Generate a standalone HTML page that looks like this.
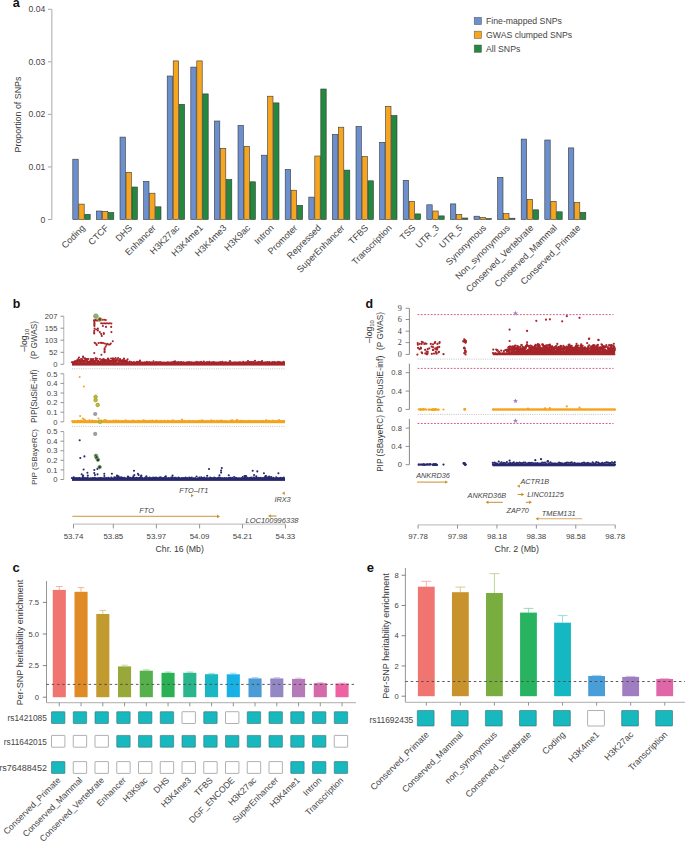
<!DOCTYPE html>
<html><head><meta charset="utf-8"><title>Figure</title>
<style>
html,body{margin:0;padding:0;background:#fff;}
body{width:685px;height:843px;overflow:hidden;}
svg{display:block;font-family:"Liberation Sans", sans-serif;}
</style></head><body>
<svg width="685" height="843" viewBox="0 0 685 843">
<rect width="685" height="843" fill="#fff"/>
<text x="12.8" y="6.8" font-size="12.6" text-anchor="start" fill="#111" font-weight="bold">a</text>
<line x1="51.8" y1="9.3" x2="51.8" y2="219.8" stroke="#c2c2c2" stroke-width="1.4"/>
<line x1="47.9" y1="9.3" x2="51.5" y2="9.3" stroke="#9a9a9a" stroke-width="0.9"/>
<text x="45.3" y="12.3" font-size="8.6" text-anchor="end" fill="#444">0.04</text>
<line x1="47.9" y1="61.85" x2="51.5" y2="61.85" stroke="#9a9a9a" stroke-width="0.9"/>
<text x="45.3" y="64.85" font-size="8.6" text-anchor="end" fill="#444">0.03</text>
<line x1="47.9" y1="114.4" x2="51.5" y2="114.4" stroke="#9a9a9a" stroke-width="0.9"/>
<text x="45.3" y="117.4" font-size="8.6" text-anchor="end" fill="#444">0.02</text>
<line x1="47.9" y1="166.95" x2="51.5" y2="166.95" stroke="#9a9a9a" stroke-width="0.9"/>
<text x="45.3" y="169.95" font-size="8.6" text-anchor="end" fill="#444">0.01</text>
<line x1="47.9" y1="219.5" x2="51.5" y2="219.5" stroke="#9a9a9a" stroke-width="0.9"/>
<text x="45.3" y="222.5" font-size="8.6" text-anchor="end" fill="#444">0</text>
<text x="0" y="0" font-size="8.9" text-anchor="middle" fill="#3a3a3a" transform="translate(20.8 114.5) rotate(-90)">Proportion of SNPs</text>
<rect x="72.8" y="159.2" width="5.4" height="60.3" fill="#6c8fcd" stroke="#383838" stroke-width="0.6"/>
<rect x="78.8" y="204.1" width="5.4" height="15.4" fill="#f6a521" stroke="#383838" stroke-width="0.6"/>
<rect x="84.8" y="214.3" width="5.4" height="5.2" fill="#22893f" stroke="#383838" stroke-width="0.6"/>
<text x="0" y="0" font-size="9.1" text-anchor="end" fill="#444" transform="translate(85.6 228.5) rotate(-45)">Coding</text>
<rect x="96.4" y="211" width="5.4" height="8.5" fill="#6c8fcd" stroke="#383838" stroke-width="0.6"/>
<rect x="102.4" y="211.3" width="5.4" height="8.2" fill="#f6a521" stroke="#383838" stroke-width="0.6"/>
<rect x="108.4" y="212.5" width="5.4" height="7" fill="#22893f" stroke="#383838" stroke-width="0.6"/>
<text x="0" y="0" font-size="9.1" text-anchor="end" fill="#444" transform="translate(109.2 228.5) rotate(-45)">CTCF</text>
<rect x="120" y="137.1" width="5.4" height="82.4" fill="#6c8fcd" stroke="#383838" stroke-width="0.6"/>
<rect x="126" y="172.3" width="5.4" height="47.2" fill="#f6a521" stroke="#383838" stroke-width="0.6"/>
<rect x="132" y="187" width="5.4" height="32.5" fill="#22893f" stroke="#383838" stroke-width="0.6"/>
<text x="0" y="0" font-size="9.1" text-anchor="end" fill="#444" transform="translate(132.8 228.5) rotate(-45)">DHS</text>
<rect x="143.6" y="181.3" width="5.4" height="38.2" fill="#6c8fcd" stroke="#383838" stroke-width="0.6"/>
<rect x="149.6" y="193.2" width="5.4" height="26.3" fill="#f6a521" stroke="#383838" stroke-width="0.6"/>
<rect x="155.6" y="206.8" width="5.4" height="12.7" fill="#22893f" stroke="#383838" stroke-width="0.6"/>
<text x="0" y="0" font-size="9.1" text-anchor="end" fill="#444" transform="translate(156.4 228.5) rotate(-45)">Enhancer</text>
<rect x="167.2" y="76" width="5.4" height="143.5" fill="#6c8fcd" stroke="#383838" stroke-width="0.6"/>
<rect x="173.2" y="60.9" width="5.4" height="158.6" fill="#f6a521" stroke="#383838" stroke-width="0.6"/>
<rect x="179.2" y="104.3" width="5.4" height="115.2" fill="#22893f" stroke="#383838" stroke-width="0.6"/>
<text x="0" y="0" font-size="9.1" text-anchor="end" fill="#444" transform="translate(180 228.5) rotate(-45)">H3K27ac</text>
<rect x="190.8" y="67.1" width="5.4" height="152.4" fill="#6c8fcd" stroke="#383838" stroke-width="0.6"/>
<rect x="196.8" y="60.9" width="5.4" height="158.6" fill="#f6a521" stroke="#383838" stroke-width="0.6"/>
<rect x="202.8" y="93.9" width="5.4" height="125.6" fill="#22893f" stroke="#383838" stroke-width="0.6"/>
<text x="0" y="0" font-size="9.1" text-anchor="end" fill="#444" transform="translate(203.6 228.5) rotate(-45)">H3K4me1</text>
<rect x="214.4" y="121" width="5.4" height="98.5" fill="#6c8fcd" stroke="#383838" stroke-width="0.6"/>
<rect x="220.4" y="148.3" width="5.4" height="71.2" fill="#f6a521" stroke="#383838" stroke-width="0.6"/>
<rect x="226.4" y="179.5" width="5.4" height="40" fill="#22893f" stroke="#383838" stroke-width="0.6"/>
<text x="0" y="0" font-size="9.1" text-anchor="end" fill="#444" transform="translate(227.2 228.5) rotate(-45)">H3K4me3</text>
<rect x="238" y="125.4" width="5.4" height="94.1" fill="#6c8fcd" stroke="#383838" stroke-width="0.6"/>
<rect x="244" y="146.3" width="5.4" height="73.2" fill="#f6a521" stroke="#383838" stroke-width="0.6"/>
<rect x="250" y="181.8" width="5.4" height="37.7" fill="#22893f" stroke="#383838" stroke-width="0.6"/>
<text x="0" y="0" font-size="9.1" text-anchor="end" fill="#444" transform="translate(250.8 228.5) rotate(-45)">H3K9ac</text>
<rect x="261.6" y="155.2" width="5.4" height="64.3" fill="#6c8fcd" stroke="#383838" stroke-width="0.6"/>
<rect x="267.6" y="96.2" width="5.4" height="123.3" fill="#f6a521" stroke="#383838" stroke-width="0.6"/>
<rect x="273.6" y="102.9" width="5.4" height="116.6" fill="#22893f" stroke="#383838" stroke-width="0.6"/>
<text x="0" y="0" font-size="9.1" text-anchor="end" fill="#444" transform="translate(274.4 228.5) rotate(-45)">Intron</text>
<rect x="285.2" y="169.4" width="5.4" height="50.1" fill="#6c8fcd" stroke="#383838" stroke-width="0.6"/>
<rect x="291.2" y="190.2" width="5.4" height="29.3" fill="#f6a521" stroke="#383838" stroke-width="0.6"/>
<rect x="297.2" y="205.3" width="5.4" height="14.2" fill="#22893f" stroke="#383838" stroke-width="0.6"/>
<text x="0" y="0" font-size="9.1" text-anchor="end" fill="#444" transform="translate(298 228.5) rotate(-45)">Promoter</text>
<rect x="308.8" y="197.1" width="5.4" height="22.4" fill="#6c8fcd" stroke="#383838" stroke-width="0.6"/>
<rect x="314.8" y="156" width="5.4" height="63.5" fill="#f6a521" stroke="#383838" stroke-width="0.6"/>
<rect x="320.8" y="89" width="5.4" height="130.5" fill="#22893f" stroke="#383838" stroke-width="0.6"/>
<text x="0" y="0" font-size="9.1" text-anchor="end" fill="#444" transform="translate(321.6 228.5) rotate(-45)">Repressed</text>
<rect x="332.4" y="134.4" width="5.4" height="85.1" fill="#6c8fcd" stroke="#383838" stroke-width="0.6"/>
<rect x="338.4" y="127.2" width="5.4" height="92.3" fill="#f6a521" stroke="#383838" stroke-width="0.6"/>
<rect x="344.4" y="170.1" width="5.4" height="49.4" fill="#22893f" stroke="#383838" stroke-width="0.6"/>
<text x="0" y="0" font-size="9.1" text-anchor="end" fill="#444" transform="translate(345.2 228.5) rotate(-45)">SuperEnhancer</text>
<rect x="356" y="126.4" width="5.4" height="93.1" fill="#6c8fcd" stroke="#383838" stroke-width="0.6"/>
<rect x="362" y="156.5" width="5.4" height="63" fill="#f6a521" stroke="#383838" stroke-width="0.6"/>
<rect x="368" y="180.8" width="5.4" height="38.7" fill="#22893f" stroke="#383838" stroke-width="0.6"/>
<text x="0" y="0" font-size="9.1" text-anchor="end" fill="#444" transform="translate(368.8 228.5) rotate(-45)">TFBS</text>
<rect x="379.6" y="142.3" width="5.4" height="77.2" fill="#6c8fcd" stroke="#383838" stroke-width="0.6"/>
<rect x="385.6" y="106.3" width="5.4" height="113.2" fill="#f6a521" stroke="#383838" stroke-width="0.6"/>
<rect x="391.6" y="115.5" width="5.4" height="104" fill="#22893f" stroke="#383838" stroke-width="0.6"/>
<text x="0" y="0" font-size="9.1" text-anchor="end" fill="#444" transform="translate(392.4 228.5) rotate(-45)">Transcription</text>
<rect x="403.2" y="180.3" width="5.4" height="39.2" fill="#6c8fcd" stroke="#383838" stroke-width="0.6"/>
<rect x="409.2" y="201.3" width="5.4" height="18.2" fill="#f6a521" stroke="#383838" stroke-width="0.6"/>
<rect x="415.2" y="213.9" width="5.4" height="5.6" fill="#22893f" stroke="#383838" stroke-width="0.6"/>
<text x="0" y="0" font-size="9.1" text-anchor="end" fill="#444" transform="translate(416 228.5) rotate(-45)">TSS</text>
<rect x="426.8" y="204.8" width="5.4" height="14.7" fill="#6c8fcd" stroke="#383838" stroke-width="0.6"/>
<rect x="432.8" y="211" width="5.4" height="8.5" fill="#f6a521" stroke="#383838" stroke-width="0.6"/>
<rect x="438.8" y="215.9" width="5.4" height="3.6" fill="#22893f" stroke="#383838" stroke-width="0.6"/>
<text x="0" y="0" font-size="9.1" text-anchor="end" fill="#444" transform="translate(439.6 228.5) rotate(-45)">UTR_3</text>
<rect x="450.4" y="203.9" width="5.4" height="15.6" fill="#6c8fcd" stroke="#383838" stroke-width="0.6"/>
<rect x="456.4" y="214.5" width="5.4" height="5" fill="#f6a521" stroke="#383838" stroke-width="0.6"/>
<rect x="462.4" y="218" width="5.4" height="1.5" fill="#22893f" stroke="#383838" stroke-width="0.6"/>
<text x="0" y="0" font-size="9.1" text-anchor="end" fill="#444" transform="translate(463.2 228.5) rotate(-45)">UTR_5</text>
<rect x="474" y="216.2" width="5.4" height="3.3" fill="#6c8fcd" stroke="#383838" stroke-width="0.6"/>
<rect x="480" y="217.4" width="5.4" height="2.1" fill="#f6a521" stroke="#383838" stroke-width="0.6"/>
<rect x="486" y="218.5" width="5.4" height="1" fill="#22893f" stroke="#383838" stroke-width="0.6"/>
<text x="0" y="0" font-size="9.1" text-anchor="end" fill="#444" transform="translate(486.8 228.5) rotate(-45)">Synonymous</text>
<rect x="497.6" y="177.4" width="5.4" height="42.1" fill="#6c8fcd" stroke="#383838" stroke-width="0.6"/>
<rect x="503.6" y="213.6" width="5.4" height="5.9" fill="#f6a521" stroke="#383838" stroke-width="0.6"/>
<rect x="509.6" y="218.2" width="5.4" height="1.3" fill="#22893f" stroke="#383838" stroke-width="0.6"/>
<text x="0" y="0" font-size="9.1" text-anchor="end" fill="#444" transform="translate(510.4 228.5) rotate(-45)">Non_synonymous</text>
<rect x="521.2" y="139.1" width="5.4" height="80.4" fill="#6c8fcd" stroke="#383838" stroke-width="0.6"/>
<rect x="527.2" y="199.3" width="5.4" height="20.2" fill="#f6a521" stroke="#383838" stroke-width="0.6"/>
<rect x="533.2" y="209.8" width="5.4" height="9.7" fill="#22893f" stroke="#383838" stroke-width="0.6"/>
<text x="0" y="0" font-size="9.1" text-anchor="end" fill="#444" transform="translate(534 228.5) rotate(-45)">Conserved_Vertebrate</text>
<rect x="544.8" y="140" width="5.4" height="79.5" fill="#6c8fcd" stroke="#383838" stroke-width="0.6"/>
<rect x="550.8" y="201.3" width="5.4" height="18.2" fill="#f6a521" stroke="#383838" stroke-width="0.6"/>
<rect x="556.8" y="211.8" width="5.4" height="7.7" fill="#22893f" stroke="#383838" stroke-width="0.6"/>
<text x="0" y="0" font-size="9.1" text-anchor="end" fill="#444" transform="translate(557.6 228.5) rotate(-45)">Conserved_Mammal</text>
<rect x="568.4" y="147.9" width="5.4" height="71.6" fill="#6c8fcd" stroke="#383838" stroke-width="0.6"/>
<rect x="574.4" y="202.5" width="5.4" height="17" fill="#f6a521" stroke="#383838" stroke-width="0.6"/>
<rect x="580.4" y="212.4" width="5.4" height="7.1" fill="#22893f" stroke="#383838" stroke-width="0.6"/>
<text x="0" y="0" font-size="9.1" text-anchor="end" fill="#444" transform="translate(581.2 228.5) rotate(-45)">Conserved_Primate</text>
<rect x="474.2" y="17.3" width="7.3" height="7.3" fill="#6c8fcd" stroke="#555" stroke-width="0.5"/>
<text x="486" y="23.8" font-size="8.7" text-anchor="start" fill="#444">Fine-mapped SNPs</text>
<rect x="474.2" y="31.15" width="7.3" height="7.3" fill="#f6a521" stroke="#555" stroke-width="0.5"/>
<text x="486" y="37.65" font-size="8.7" text-anchor="start" fill="#444">GWAS clumped SNPs</text>
<rect x="474.2" y="45" width="7.3" height="7.3" fill="#22893f" stroke="#555" stroke-width="0.5"/>
<text x="486" y="51.5" font-size="8.7" text-anchor="start" fill="#444">All SNPs</text>
<text x="12.8" y="307.7" font-size="12.4" text-anchor="start" fill="#111" font-weight="bold">b</text>
<line x1="63.7" y1="316.2" x2="63.7" y2="364.3" stroke="#c4c4c4" stroke-width="1.3"/>
<line x1="60.5" y1="316.2" x2="63.7" y2="316.2" stroke="#777" stroke-width="0.8"/>
<text x="57.4" y="318.9" font-size="7.6" text-anchor="end" fill="#444">207</text>
<line x1="60.5" y1="328.2" x2="63.7" y2="328.2" stroke="#777" stroke-width="0.8"/>
<text x="57.4" y="330.9" font-size="7.6" text-anchor="end" fill="#444">155</text>
<line x1="60.5" y1="340.2" x2="63.7" y2="340.2" stroke="#777" stroke-width="0.8"/>
<text x="57.4" y="342.9" font-size="7.6" text-anchor="end" fill="#444">103</text>
<line x1="60.5" y1="352.3" x2="63.7" y2="352.3" stroke="#777" stroke-width="0.8"/>
<text x="57.4" y="355" font-size="7.6" text-anchor="end" fill="#444">52</text>
<line x1="60.5" y1="364.3" x2="63.7" y2="364.3" stroke="#777" stroke-width="0.8"/>
<text x="57.4" y="367" font-size="7.6" text-anchor="end" fill="#444">0</text>
<line x1="63.7" y1="373.8" x2="63.7" y2="421.8" stroke="#c4c4c4" stroke-width="1.3"/>
<line x1="60.5" y1="373.8" x2="63.7" y2="373.8" stroke="#777" stroke-width="0.8"/>
<text x="57.4" y="376.5" font-size="7.6" text-anchor="end" fill="#444">0.5</text>
<line x1="60.5" y1="383.4" x2="63.7" y2="383.4" stroke="#777" stroke-width="0.8"/>
<text x="57.4" y="386.1" font-size="7.6" text-anchor="end" fill="#444">0.4</text>
<line x1="60.5" y1="393" x2="63.7" y2="393" stroke="#777" stroke-width="0.8"/>
<text x="57.4" y="395.7" font-size="7.6" text-anchor="end" fill="#444">0.3</text>
<line x1="60.5" y1="402.6" x2="63.7" y2="402.6" stroke="#777" stroke-width="0.8"/>
<text x="57.4" y="405.3" font-size="7.6" text-anchor="end" fill="#444">0.2</text>
<line x1="60.5" y1="412.2" x2="63.7" y2="412.2" stroke="#777" stroke-width="0.8"/>
<text x="57.4" y="414.9" font-size="7.6" text-anchor="end" fill="#444">0.1</text>
<line x1="60.5" y1="421.8" x2="63.7" y2="421.8" stroke="#777" stroke-width="0.8"/>
<text x="57.4" y="424.5" font-size="7.6" text-anchor="end" fill="#444">0</text>
<line x1="63.7" y1="431.6" x2="63.7" y2="479.5" stroke="#c4c4c4" stroke-width="1.3"/>
<line x1="60.5" y1="431.6" x2="63.7" y2="431.6" stroke="#777" stroke-width="0.8"/>
<text x="57.4" y="434.3" font-size="7.6" text-anchor="end" fill="#444">0.5</text>
<line x1="60.5" y1="441.18" x2="63.7" y2="441.18" stroke="#777" stroke-width="0.8"/>
<text x="57.4" y="443.88" font-size="7.6" text-anchor="end" fill="#444">0.4</text>
<line x1="60.5" y1="450.76" x2="63.7" y2="450.76" stroke="#777" stroke-width="0.8"/>
<text x="57.4" y="453.46" font-size="7.6" text-anchor="end" fill="#444">0.3</text>
<line x1="60.5" y1="460.34" x2="63.7" y2="460.34" stroke="#777" stroke-width="0.8"/>
<text x="57.4" y="463.04" font-size="7.6" text-anchor="end" fill="#444">0.2</text>
<line x1="60.5" y1="469.92" x2="63.7" y2="469.92" stroke="#777" stroke-width="0.8"/>
<text x="57.4" y="472.62" font-size="7.6" text-anchor="end" fill="#444">0.1</text>
<line x1="60.5" y1="479.5" x2="63.7" y2="479.5" stroke="#777" stroke-width="0.8"/>
<text x="57.4" y="482.2" font-size="7.6" text-anchor="end" fill="#444">0</text>
<line x1="72" y1="368.8" x2="285" y2="368.8" stroke="#b5b5b5" stroke-width="0.9" stroke-dasharray="0.9 1.35"/>
<line x1="72" y1="426.4" x2="285" y2="426.4" stroke="#b5b5b5" stroke-width="0.9" stroke-dasharray="0.9 1.35"/>
<text font-size="8.6" fill="#3a3a3a" text-anchor="middle" transform="translate(27.0 340.2) rotate(-90)">&#8211;log<tspan font-size="6" dy="1.8">10</tspan></text>
<text x="0" y="0" font-size="8.2" text-anchor="middle" fill="#3a3a3a" transform="translate(37.4 340) rotate(-90)">(P GWAS)</text>
<text x="0" y="0" font-size="8.3" text-anchor="middle" fill="#3a3a3a" transform="translate(37.4 396.2) rotate(-90)">PIP(SuSiE-inf)</text>
<text x="0" y="0" font-size="8.1" text-anchor="middle" fill="#3a3a3a" transform="translate(37.4 457) rotate(-90)">PIP (SBayeRC)</text>
<rect x="72" y="362.1" width="213" height="3.5" fill="#a5252a"/>
<g fill="#a5252a"><circle cx="71.89" cy="362.22" r="1.05"/><circle cx="73.14" cy="362.07" r="1.05"/><circle cx="74.82" cy="361.63" r="1.05"/><circle cx="74.8" cy="361.59" r="1.05"/><circle cx="75.32" cy="361.44" r="1.05"/><circle cx="75.35" cy="361.75" r="1.05"/><circle cx="76.35" cy="361.62" r="1.05"/><circle cx="76.23" cy="361.27" r="1.05"/><circle cx="77.28" cy="360.01" r="1.05"/><circle cx="77.14" cy="361.32" r="1.05"/><circle cx="78.29" cy="358.97" r="1.05"/><circle cx="77.87" cy="361.09" r="1.05"/><circle cx="78.59" cy="360.99" r="1.05"/><circle cx="78.99" cy="361.07" r="1.05"/><circle cx="79.41" cy="360.01" r="1.05"/><circle cx="79.52" cy="360.88" r="1.05"/><circle cx="80.43" cy="361.48" r="1.05"/><circle cx="80.22" cy="361.78" r="1.05"/><circle cx="81.31" cy="360.75" r="1.05"/><circle cx="81.25" cy="361.39" r="1.05"/><circle cx="81.97" cy="361.12" r="1.05"/><circle cx="82.12" cy="359.29" r="1.05"/><circle cx="82.65" cy="360.26" r="1.05"/><circle cx="83.03" cy="361.12" r="1.05"/><circle cx="83.74" cy="360.94" r="1.05"/><circle cx="83.37" cy="357.65" r="1.05"/><circle cx="84.35" cy="361.96" r="1.05"/><circle cx="84.39" cy="361.08" r="1.05"/><circle cx="84.92" cy="360.66" r="1.05"/><circle cx="85.24" cy="359.63" r="1.05"/><circle cx="86.23" cy="361.04" r="1.05"/><circle cx="86.06" cy="359.73" r="1.05"/><circle cx="86.85" cy="359.05" r="1.05"/><circle cx="87.07" cy="361.17" r="1.05"/><circle cx="87.58" cy="361.71" r="1.05"/><circle cx="87.72" cy="361.51" r="1.05"/><circle cx="88.49" cy="359.03" r="1.05"/><circle cx="88.27" cy="361.87" r="1.05"/><circle cx="89.13" cy="361.83" r="1.05"/><circle cx="89.18" cy="361.7" r="1.05"/><circle cx="89.8" cy="361.59" r="1.05"/><circle cx="90.16" cy="361.63" r="1.05"/><circle cx="90.58" cy="361.98" r="1.05"/><circle cx="91.02" cy="360.41" r="1.05"/><circle cx="91.35" cy="360.08" r="1.05"/><circle cx="91.83" cy="361.37" r="1.05"/><circle cx="92.59" cy="361.15" r="1.05"/><circle cx="92.35" cy="361.02" r="1.05"/><circle cx="93.12" cy="358.99" r="1.05"/><circle cx="92.99" cy="359.32" r="1.05"/><circle cx="93.81" cy="361.87" r="1.05"/><circle cx="93.99" cy="360.84" r="1.05"/><circle cx="94.85" cy="361.99" r="1.05"/><circle cx="94.75" cy="361.86" r="1.05"/><circle cx="95.52" cy="358.38" r="1.05"/><circle cx="95.71" cy="360.4" r="1.05"/><circle cx="96.41" cy="360.22" r="1.05"/><circle cx="96.13" cy="360.38" r="1.05"/><circle cx="97.44" cy="361.39" r="1.05"/><circle cx="97.38" cy="358.8" r="1.05"/><circle cx="97.94" cy="361.4" r="1.05"/><circle cx="98.08" cy="361.56" r="1.05"/><circle cx="98.54" cy="361" r="1.05"/><circle cx="98.6" cy="361.55" r="1.05"/><circle cx="99.5" cy="361.97" r="1.05"/><circle cx="99.39" cy="361.99" r="1.05"/><circle cx="100.16" cy="361.76" r="1.05"/><circle cx="100.62" cy="361.73" r="1.05"/><circle cx="101.27" cy="361.27" r="1.05"/><circle cx="101.11" cy="361.02" r="1.05"/><circle cx="101.92" cy="359.77" r="1.05"/><circle cx="102.3" cy="359.83" r="1.05"/><circle cx="102.78" cy="361.33" r="1.05"/><circle cx="102.56" cy="361.93" r="1.05"/><circle cx="103.51" cy="361.72" r="1.05"/><circle cx="103.4" cy="359.01" r="1.05"/><circle cx="104.11" cy="360.13" r="1.05"/><circle cx="104.19" cy="361.41" r="1.05"/><circle cx="105.23" cy="360.07" r="1.05"/><circle cx="105.49" cy="361.67" r="1.05"/><circle cx="106.22" cy="361.59" r="1.05"/><circle cx="105.92" cy="360.83" r="1.05"/><circle cx="106.6" cy="361.73" r="1.05"/><circle cx="106.97" cy="360.05" r="1.05"/><circle cx="107.5" cy="361.51" r="1.05"/><circle cx="107.89" cy="359.12" r="1.05"/><circle cx="108.61" cy="360.98" r="1.05"/><circle cx="108.54" cy="359.23" r="1.05"/><circle cx="109.04" cy="360.51" r="1.05"/><circle cx="108.92" cy="361.83" r="1.05"/><circle cx="109.72" cy="361.77" r="1.05"/><circle cx="110.12" cy="360.78" r="1.05"/><circle cx="111.07" cy="358.44" r="1.05"/><circle cx="111.09" cy="360.78" r="1.05"/><circle cx="111.87" cy="361.26" r="1.05"/><circle cx="111.44" cy="361.15" r="1.05"/><circle cx="112.22" cy="361.37" r="1.05"/><circle cx="112.64" cy="359.85" r="1.05"/><circle cx="113.4" cy="359.69" r="1.05"/><circle cx="113.38" cy="361.7" r="1.05"/><circle cx="113.75" cy="360.13" r="1.05"/><circle cx="114.17" cy="359.03" r="1.05"/><circle cx="114.95" cy="361.01" r="1.05"/><circle cx="114.97" cy="361.86" r="1.05"/><circle cx="115.5" cy="360.66" r="1.05"/><circle cx="115.54" cy="357.94" r="1.05"/><circle cx="116.34" cy="359.57" r="1.05"/><circle cx="116.2" cy="361.16" r="1.05"/><circle cx="116.98" cy="359.98" r="1.05"/><circle cx="117.38" cy="359.18" r="1.05"/><circle cx="117.79" cy="359.93" r="1.05"/><circle cx="118.09" cy="358.02" r="1.05"/><circle cx="118.71" cy="361.19" r="1.05"/><circle cx="118.51" cy="361.74" r="1.05"/><circle cx="119.88" cy="360.85" r="1.05"/><circle cx="119.86" cy="360.42" r="1.05"/><circle cx="120.36" cy="359.93" r="1.05"/><circle cx="120.23" cy="359.84" r="1.05"/><circle cx="121.05" cy="361.68" r="1.05"/><circle cx="121.25" cy="360.86" r="1.05"/><circle cx="121.86" cy="361.26" r="1.05"/><circle cx="122.25" cy="361.59" r="1.05"/><circle cx="122.71" cy="359.96" r="1.05"/><circle cx="123.04" cy="361.45" r="1.05"/><circle cx="123.55" cy="360.36" r="1.05"/><circle cx="123.62" cy="361.07" r="1.05"/><circle cx="124.41" cy="360.29" r="1.05"/><circle cx="124.21" cy="361.8" r="1.05"/><circle cx="124.9" cy="361.7" r="1.05"/><circle cx="125.18" cy="361.06" r="1.05"/><circle cx="126.14" cy="360.67" r="1.05"/><circle cx="126.01" cy="361.51" r="1.05"/><circle cx="126.83" cy="361.84" r="1.05"/><circle cx="126.84" cy="361.26" r="1.05"/><circle cx="127.45" cy="361.54" r="1.05"/><circle cx="127.6" cy="359.29" r="1.05"/><circle cx="128.44" cy="362.54" r="1.05"/><circle cx="129.77" cy="361.61" r="1.05"/><circle cx="131.27" cy="362.06" r="1.05"/><circle cx="132.72" cy="362.58" r="1.05"/><circle cx="133.97" cy="362.1" r="1.05"/><circle cx="135.66" cy="362.49" r="1.05"/><circle cx="136.92" cy="361.83" r="1.05"/><circle cx="138.06" cy="361.85" r="1.05"/><circle cx="139.64" cy="361.79" r="1.05"/><circle cx="140.78" cy="362.3" r="1.05"/><circle cx="142.17" cy="362.44" r="1.05"/><circle cx="143.64" cy="362.54" r="1.05"/><circle cx="144.94" cy="362.22" r="1.05"/><circle cx="146.84" cy="361.91" r="1.05"/><circle cx="147.79" cy="362.46" r="1.05"/><circle cx="149.19" cy="361.95" r="1.05"/><circle cx="151.03" cy="362.29" r="1.05"/><circle cx="152.47" cy="362.54" r="1.05"/><circle cx="153.54" cy="361.24" r="1.05"/><circle cx="155.2" cy="362.49" r="1.05"/><circle cx="156.2" cy="362.11" r="1.05"/><circle cx="157.7" cy="362.37" r="1.05"/><circle cx="159.02" cy="362.3" r="1.05"/><circle cx="160.31" cy="361.95" r="1.05"/><circle cx="162.03" cy="362.52" r="1.05"/><circle cx="163.3" cy="362.57" r="1.05"/><circle cx="164.87" cy="362.44" r="1.05"/><circle cx="166.49" cy="362.59" r="1.05"/><circle cx="167.77" cy="362.39" r="1.05"/><circle cx="168.86" cy="362.56" r="1.05"/><circle cx="170.12" cy="362.54" r="1.05"/><circle cx="171.58" cy="362.25" r="1.05"/><circle cx="173.15" cy="361.89" r="1.05"/><circle cx="174.46" cy="362.16" r="1.05"/><circle cx="175.79" cy="362.09" r="1.05"/><circle cx="177.52" cy="362.32" r="1.05"/><circle cx="178.55" cy="361.96" r="1.05"/><circle cx="180.16" cy="362.36" r="1.05"/><circle cx="181.34" cy="362.01" r="1.05"/><circle cx="183.18" cy="362.36" r="1.05"/><circle cx="184.15" cy="362.5" r="1.05"/><circle cx="186.02" cy="362.47" r="1.05"/><circle cx="187.17" cy="362.3" r="1.05"/><circle cx="188.86" cy="362.12" r="1.05"/><circle cx="189.86" cy="362.22" r="1.05"/><circle cx="191.24" cy="362.2" r="1.05"/><circle cx="192.57" cy="362.52" r="1.05"/><circle cx="194.02" cy="362.48" r="1.05"/><circle cx="195.49" cy="362.34" r="1.05"/><circle cx="196.87" cy="361.89" r="1.05"/><circle cx="198.4" cy="362.42" r="1.05"/><circle cx="199.51" cy="362.23" r="1.05"/><circle cx="201.05" cy="361.87" r="1.05"/><circle cx="202.63" cy="362.53" r="1.05"/><circle cx="203.81" cy="361.56" r="1.05"/><circle cx="205.16" cy="362.43" r="1.05"/><circle cx="206.99" cy="362.12" r="1.05"/><circle cx="208.4" cy="362.38" r="1.05"/><circle cx="209.54" cy="361.91" r="1.05"/><circle cx="211.29" cy="362.57" r="1.05"/><circle cx="212.31" cy="362.25" r="1.05"/><circle cx="213.88" cy="361.99" r="1.05"/><circle cx="215.14" cy="362.51" r="1.05"/><circle cx="216.38" cy="362.48" r="1.05"/><circle cx="217.74" cy="362.58" r="1.05"/><circle cx="219.2" cy="362.25" r="1.05"/><circle cx="220.55" cy="362.11" r="1.05"/><circle cx="222.3" cy="361.84" r="1.05"/><circle cx="223.47" cy="362.58" r="1.05"/><circle cx="224.98" cy="362.23" r="1.05"/><circle cx="226.19" cy="362.27" r="1.05"/><circle cx="228.08" cy="362.48" r="1.05"/><circle cx="229.48" cy="362.28" r="1.05"/><circle cx="230.88" cy="362.5" r="1.05"/><circle cx="231.89" cy="362.59" r="1.05"/><circle cx="233.33" cy="362.58" r="1.05"/><circle cx="234.78" cy="362.3" r="1.05"/><circle cx="236.2" cy="362.59" r="1.05"/><circle cx="237.3" cy="362.58" r="1.05"/><circle cx="238.94" cy="362.41" r="1.05"/><circle cx="240.13" cy="362.22" r="1.05"/><circle cx="241.64" cy="362.55" r="1.05"/><circle cx="243.25" cy="361.86" r="1.05"/><circle cx="244.69" cy="362.46" r="1.05"/><circle cx="246.13" cy="362.28" r="1.05"/><circle cx="247.3" cy="362.29" r="1.05"/><circle cx="249.09" cy="362.17" r="1.05"/><circle cx="250.29" cy="362.02" r="1.05"/><circle cx="251.33" cy="362.12" r="1.05"/><circle cx="253.08" cy="361.78" r="1.05"/><circle cx="254.54" cy="362.51" r="1.05"/><circle cx="255.81" cy="362.37" r="1.05"/><circle cx="257.2" cy="362.19" r="1.05"/><circle cx="258.8" cy="361.9" r="1.05"/><circle cx="260.05" cy="362.07" r="1.05"/><circle cx="261.52" cy="362.17" r="1.05"/><circle cx="262.64" cy="362.36" r="1.05"/><circle cx="264.12" cy="362.55" r="1.05"/><circle cx="265.36" cy="362.3" r="1.05"/><circle cx="267.08" cy="362.11" r="1.05"/><circle cx="268.48" cy="362.38" r="1.05"/><circle cx="269.5" cy="362.13" r="1.05"/><circle cx="271.38" cy="362.59" r="1.05"/><circle cx="272.62" cy="362.07" r="1.05"/><circle cx="274.1" cy="361.93" r="1.05"/><circle cx="275.25" cy="362.3" r="1.05"/><circle cx="276.54" cy="362.53" r="1.05"/><circle cx="278.02" cy="361.88" r="1.05"/><circle cx="279.74" cy="362.08" r="1.05"/><circle cx="280.93" cy="362.52" r="1.05"/><circle cx="282.39" cy="362.29" r="1.05"/><circle cx="283.87" cy="361.9" r="1.05"/><circle cx="79" cy="357.5" r="1.05"/><circle cx="81" cy="359" r="1.05"/><circle cx="83" cy="356.6" r="1.05"/><circle cx="85" cy="358.2" r="1.05"/><circle cx="87" cy="359" r="1.05"/><circle cx="91" cy="359" r="1.05"/><circle cx="96" cy="358.6" r="1.05"/><circle cx="100" cy="359" r="1.05"/><circle cx="104" cy="359.5" r="1.05"/><circle cx="108" cy="358.6" r="1.05"/><circle cx="113" cy="358.4" r="1.05"/><circle cx="120" cy="359.1" r="1.05"/><circle cx="124" cy="358.6" r="1.05"/><circle cx="140" cy="360.6" r="1.05"/><circle cx="175" cy="361.3" r="1.05"/><circle cx="230" cy="361" r="1.05"/><circle cx="248" cy="361" r="1.05"/><circle cx="255" cy="360.8" r="1.05"/><circle cx="262" cy="361" r="1.05"/><circle cx="94" cy="320.3" r="1.05"/><circle cx="95.3" cy="320.1" r="1.05"/><circle cx="96.6" cy="320.4" r="1.05"/><circle cx="97.9" cy="320.6" r="1.05"/><circle cx="102.6" cy="319.7" r="1.05"/><circle cx="104.2" cy="319.7" r="1.05"/><circle cx="105.8" cy="320" r="1.05"/><circle cx="101.2" cy="323.2" r="1.05"/><circle cx="102.65" cy="323.45" r="1.05"/><circle cx="104.1" cy="323.2" r="1.05"/><circle cx="105.55" cy="323.45" r="1.05"/><circle cx="107" cy="323.2" r="1.05"/><circle cx="108.45" cy="323.45" r="1.05"/><circle cx="109.9" cy="323.2" r="1.05"/><circle cx="111.35" cy="323.45" r="1.05"/><circle cx="94.4" cy="321.6" r="1.05"/><circle cx="94.4" cy="322.7" r="1.05"/><circle cx="94.4" cy="323.8" r="1.05"/><circle cx="94.4" cy="324.9" r="1.05"/><circle cx="94.4" cy="326" r="1.05"/><circle cx="94.6" cy="328.6" r="1.05"/><circle cx="97.9" cy="328.6" r="1.05"/><circle cx="94.2" cy="330.8" r="1.05"/><circle cx="94.2" cy="332.2" r="1.05"/><circle cx="94.2" cy="333.5" r="1.05"/><circle cx="97.9" cy="330.4" r="1.05"/><circle cx="96.2" cy="329.5" r="1.05"/><circle cx="99.8" cy="332.1" r="1.05"/><circle cx="101.1" cy="333.9" r="1.05"/><circle cx="101.8" cy="335.9" r="1.05"/><circle cx="103.8" cy="333" r="1.05"/><circle cx="103.8" cy="334" r="1.05"/><circle cx="102.9" cy="326" r="1.05"/><circle cx="106" cy="326.9" r="1.05"/><circle cx="111.2" cy="326.9" r="1.05"/><circle cx="111.4" cy="332.1" r="1.05"/><circle cx="94.6" cy="342.7" r="1.05"/><circle cx="95.7" cy="343.5" r="1.05"/><circle cx="96.7" cy="344.9" r="1.05"/><circle cx="98.5" cy="343" r="1.05"/><circle cx="100.3" cy="342.7" r="1.05"/><circle cx="101.7" cy="342.9" r="1.05"/><circle cx="103.1" cy="343.1" r="1.05"/><circle cx="104.9" cy="343.5" r="1.05"/><circle cx="106.4" cy="344.9" r="1.05"/><circle cx="107.2" cy="343.8" r="1.05"/><circle cx="108.5" cy="344.5" r="1.05"/><circle cx="109.9" cy="344.5" r="1.05"/><circle cx="110.8" cy="343.6" r="1.05"/><circle cx="112.8" cy="341.3" r="1.05"/><circle cx="105.6" cy="346.7" r="1.05"/><circle cx="104.6" cy="348.4" r="1.05"/><circle cx="104.6" cy="349.8" r="1.05"/><circle cx="104.6" cy="351.2" r="1.05"/><circle cx="104.6" cy="352.2" r="1.05"/><circle cx="94.3" cy="353.1" r="1.05"/><circle cx="101.4" cy="354.8" r="1.05"/></g>
<circle cx="95.9" cy="316.2" r="2.3" fill="#a09aa6" stroke="#7db94a" stroke-width="1.0"/>
<circle cx="99.8" cy="319.4" r="1.9" fill="#a5252a" stroke="#7db94a" stroke-width="1.0"/>
<rect x="72" y="420.5" width="213" height="2.7" fill="#f5a31c"/>
<g fill="#f5a31c"><circle cx="72.09" cy="421.25" r="1.0"/><circle cx="72.95" cy="421.37" r="1.0"/><circle cx="74.35" cy="421.28" r="1.0"/><circle cx="75.01" cy="420.89" r="1.0"/><circle cx="76.14" cy="421.41" r="1.0"/><circle cx="77.62" cy="420.76" r="1.0"/><circle cx="78.71" cy="421.35" r="1.0"/><circle cx="79.68" cy="420.92" r="1.0"/><circle cx="80.78" cy="420.72" r="1.0"/><circle cx="81.72" cy="420.78" r="1.0"/><circle cx="83.29" cy="421.41" r="1.0"/><circle cx="84.08" cy="421.46" r="1.0"/><circle cx="85.39" cy="420.96" r="1.0"/><circle cx="86.16" cy="421.39" r="1.0"/><circle cx="87.23" cy="421.18" r="1.0"/><circle cx="88.55" cy="421.38" r="1.0"/><circle cx="89.39" cy="420.28" r="1.0"/><circle cx="90.48" cy="421.31" r="1.0"/><circle cx="91.99" cy="420.46" r="1.0"/><circle cx="93.02" cy="421.44" r="1.0"/><circle cx="93.84" cy="421.04" r="1.0"/><circle cx="94.81" cy="421.15" r="1.0"/><circle cx="95.9" cy="420.95" r="1.0"/><circle cx="97.18" cy="421.47" r="1.0"/><circle cx="98.18" cy="421.26" r="1.0"/><circle cx="99.7" cy="421.14" r="1.0"/><circle cx="100.3" cy="421.5" r="1.0"/><circle cx="101.47" cy="420.54" r="1.0"/><circle cx="103.06" cy="421.25" r="1.0"/><circle cx="103.77" cy="420.45" r="1.0"/><circle cx="104.92" cy="420.07" r="1.0"/><circle cx="106.15" cy="420.36" r="1.0"/><circle cx="107.12" cy="421.14" r="1.0"/><circle cx="108.03" cy="421.32" r="1.0"/><circle cx="109.16" cy="421.29" r="1.0"/><circle cx="110.76" cy="421.15" r="1.0"/><circle cx="111.45" cy="421.44" r="1.0"/><circle cx="112.51" cy="420.9" r="1.0"/><circle cx="113.72" cy="420.5" r="1.0"/><circle cx="115.09" cy="421.22" r="1.0"/><circle cx="116.08" cy="420.48" r="1.0"/><circle cx="117.13" cy="420.88" r="1.0"/><circle cx="118.33" cy="420.73" r="1.0"/><circle cx="119.27" cy="421.25" r="1.0"/><circle cx="120.55" cy="421.25" r="1.0"/><circle cx="121.23" cy="421.18" r="1.0"/><circle cx="122.86" cy="421.11" r="1.0"/><circle cx="123.61" cy="421.09" r="1.0"/><circle cx="124.68" cy="421.41" r="1.0"/><circle cx="125.76" cy="420.14" r="1.0"/><circle cx="127.09" cy="421.3" r="1.0"/><circle cx="128.04" cy="420.89" r="1.0"/><circle cx="129" cy="421.32" r="1.0"/><circle cx="130.54" cy="421.21" r="1.0"/><circle cx="131.4" cy="421.3" r="1.0"/><circle cx="132.8" cy="420.43" r="1.0"/><circle cx="133.57" cy="421.29" r="1.0"/><circle cx="134.45" cy="421.25" r="1.0"/><circle cx="135.71" cy="421.19" r="1.0"/><circle cx="136.76" cy="421.3" r="1.0"/><circle cx="138.04" cy="420.87" r="1.0"/><circle cx="139.05" cy="420.96" r="1.0"/><circle cx="140.15" cy="421.02" r="1.0"/><circle cx="141.2" cy="421.43" r="1.0"/><circle cx="142.14" cy="421.27" r="1.0"/><circle cx="143.28" cy="420.21" r="1.0"/><circle cx="144.6" cy="420.82" r="1.0"/><circle cx="145.53" cy="420.78" r="1.0"/><circle cx="146.66" cy="421.5" r="1.0"/><circle cx="147.87" cy="420.99" r="1.0"/><circle cx="149.27" cy="420.91" r="1.0"/><circle cx="149.81" cy="420.67" r="1.0"/><circle cx="150.92" cy="421.23" r="1.0"/><circle cx="152.28" cy="420.47" r="1.0"/><circle cx="153.45" cy="421" r="1.0"/><circle cx="154.76" cy="421.5" r="1.0"/><circle cx="155.8" cy="420.68" r="1.0"/><circle cx="156.55" cy="420.44" r="1.0"/><circle cx="157.57" cy="421.16" r="1.0"/><circle cx="159.01" cy="421" r="1.0"/><circle cx="160.26" cy="421.37" r="1.0"/><circle cx="161.26" cy="420.79" r="1.0"/><circle cx="162.17" cy="421.37" r="1.0"/><circle cx="163.47" cy="421.45" r="1.0"/><circle cx="164.24" cy="420.87" r="1.0"/><circle cx="165.38" cy="421.15" r="1.0"/><circle cx="166.38" cy="421.49" r="1.0"/><circle cx="167.82" cy="420.79" r="1.0"/><circle cx="168.57" cy="420.95" r="1.0"/><circle cx="169.95" cy="421.24" r="1.0"/><circle cx="170.93" cy="421.39" r="1.0"/><circle cx="171.81" cy="420.83" r="1.0"/><circle cx="173.08" cy="420.27" r="1.0"/><circle cx="174.39" cy="421.19" r="1.0"/><circle cx="175.63" cy="421.14" r="1.0"/><circle cx="176.35" cy="421.44" r="1.0"/><circle cx="177.88" cy="421.38" r="1.0"/><circle cx="178.41" cy="421.09" r="1.0"/><circle cx="179.8" cy="421.26" r="1.0"/><circle cx="180.75" cy="421.04" r="1.0"/><circle cx="182.1" cy="421.18" r="1.0"/><circle cx="182.82" cy="421.34" r="1.0"/><circle cx="184.1" cy="420.83" r="1.0"/><circle cx="185.12" cy="421.14" r="1.0"/><circle cx="186.58" cy="421.46" r="1.0"/><circle cx="187.32" cy="420.91" r="1.0"/><circle cx="188.88" cy="421.15" r="1.0"/><circle cx="189.54" cy="420.64" r="1.0"/><circle cx="190.63" cy="421.47" r="1.0"/><circle cx="192.17" cy="421.08" r="1.0"/><circle cx="193" cy="421.36" r="1.0"/><circle cx="194.05" cy="421.17" r="1.0"/><circle cx="195.3" cy="421.23" r="1.0"/><circle cx="196.24" cy="421.41" r="1.0"/><circle cx="197.23" cy="421.23" r="1.0"/><circle cx="198.23" cy="421.46" r="1.0"/><circle cx="199.34" cy="420.66" r="1.0"/><circle cx="200.93" cy="420.84" r="1.0"/><circle cx="201.94" cy="420.34" r="1.0"/><circle cx="202.8" cy="421.48" r="1.0"/><circle cx="203.81" cy="420.74" r="1.0"/><circle cx="204.82" cy="421.18" r="1.0"/><circle cx="206.3" cy="421.15" r="1.0"/><circle cx="207.2" cy="421.17" r="1.0"/><circle cx="208.2" cy="421.09" r="1.0"/><circle cx="209.41" cy="421.49" r="1.0"/><circle cx="210.87" cy="420.58" r="1.0"/><circle cx="211.52" cy="420.59" r="1.0"/><circle cx="212.71" cy="421.1" r="1.0"/><circle cx="213.86" cy="420.66" r="1.0"/><circle cx="214.73" cy="421.02" r="1.0"/><circle cx="216.35" cy="421.42" r="1.0"/><circle cx="217.02" cy="420.8" r="1.0"/><circle cx="218.02" cy="420.7" r="1.0"/><circle cx="219.35" cy="421.18" r="1.0"/><circle cx="220.22" cy="420.71" r="1.0"/><circle cx="221.32" cy="420.46" r="1.0"/><circle cx="222.55" cy="421.07" r="1.0"/><circle cx="223.95" cy="421.13" r="1.0"/><circle cx="224.76" cy="421.23" r="1.0"/><circle cx="226.27" cy="421.21" r="1.0"/><circle cx="227.23" cy="421.24" r="1.0"/><circle cx="228.09" cy="421.49" r="1.0"/><circle cx="229.45" cy="421.46" r="1.0"/><circle cx="230.65" cy="420.7" r="1.0"/><circle cx="231.21" cy="420.61" r="1.0"/><circle cx="232.44" cy="420.26" r="1.0"/><circle cx="233.97" cy="421.31" r="1.0"/><circle cx="234.73" cy="421.5" r="1.0"/><circle cx="235.9" cy="420.97" r="1.0"/><circle cx="237.26" cy="421.13" r="1.0"/><circle cx="238.24" cy="420.68" r="1.0"/><circle cx="239.39" cy="421.4" r="1.0"/><circle cx="240.2" cy="420.82" r="1.0"/><circle cx="241.29" cy="420.94" r="1.0"/><circle cx="242.25" cy="420.83" r="1.0"/><circle cx="243.42" cy="421.49" r="1.0"/><circle cx="244.44" cy="421.12" r="1.0"/><circle cx="245.52" cy="421.08" r="1.0"/><circle cx="247.19" cy="421.36" r="1.0"/><circle cx="248.23" cy="421.11" r="1.0"/><circle cx="248.85" cy="421.47" r="1.0"/><circle cx="249.96" cy="420.71" r="1.0"/><circle cx="251.27" cy="421.49" r="1.0"/><circle cx="252.24" cy="420.9" r="1.0"/><circle cx="253.6" cy="421.15" r="1.0"/><circle cx="254.75" cy="421.08" r="1.0"/><circle cx="255.47" cy="420.89" r="1.0"/><circle cx="257" cy="421.32" r="1.0"/><circle cx="257.82" cy="420.88" r="1.0"/><circle cx="259.14" cy="421.38" r="1.0"/><circle cx="259.95" cy="421.14" r="1.0"/><circle cx="260.99" cy="421.01" r="1.0"/><circle cx="262.2" cy="421.06" r="1.0"/><circle cx="263.34" cy="420.91" r="1.0"/><circle cx="264.34" cy="421.47" r="1.0"/><circle cx="265.79" cy="420.62" r="1.0"/><circle cx="266.46" cy="420.24" r="1.0"/><circle cx="267.78" cy="421.1" r="1.0"/><circle cx="269.15" cy="420.63" r="1.0"/><circle cx="269.72" cy="421.43" r="1.0"/><circle cx="270.91" cy="421.26" r="1.0"/><circle cx="272.48" cy="420.5" r="1.0"/><circle cx="273.22" cy="420.92" r="1.0"/><circle cx="274.62" cy="421.13" r="1.0"/><circle cx="275.67" cy="421.38" r="1.0"/><circle cx="276.87" cy="420.97" r="1.0"/><circle cx="277.77" cy="421.08" r="1.0"/><circle cx="278.63" cy="421.31" r="1.0"/><circle cx="279.72" cy="421.3" r="1.0"/><circle cx="280.85" cy="420.91" r="1.0"/><circle cx="281.92" cy="421.08" r="1.0"/><circle cx="282.91" cy="421.15" r="1.0"/><circle cx="284.11" cy="420.83" r="1.0"/><circle cx="79.7" cy="376.9" r="1.0"/><circle cx="83.8" cy="386.5" r="1.0"/><circle cx="80.1" cy="416" r="1.0"/><circle cx="82.8" cy="418.5" r="1.0"/><circle cx="83.8" cy="419.3" r="1.0"/><circle cx="85" cy="419.9" r="1.0"/><circle cx="98.5" cy="418.5" r="1.0"/><circle cx="182" cy="419.6" r="1.0"/><circle cx="237" cy="419.8" r="1.0"/><circle cx="279" cy="420" r="1.0"/></g>
<circle cx="95.6" cy="396.9" r="1.8" fill="#f5a31c" stroke="#7db94a" stroke-width="0.9"/>
<circle cx="95.6" cy="400.1" r="1.8" fill="#f5a31c" stroke="#7db94a" stroke-width="0.9"/>
<circle cx="97.7" cy="404.9" r="1.8" fill="#f5a31c" stroke="#7db94a" stroke-width="0.9"/>
<circle cx="95.2" cy="414" r="2.1" fill="#a09aa6"/>
<circle cx="100.1" cy="421.8" r="1.8" fill="none" stroke="#7db94a" stroke-width="0.9"/>
<rect x="72" y="477.9" width="213" height="3" fill="#27296c"/>
<g fill="#27296c"><circle cx="71.89" cy="477.99" r="1.05"/><circle cx="73.53" cy="477.28" r="1.05"/><circle cx="74.74" cy="477.82" r="1.05"/><circle cx="76.53" cy="477.94" r="1.05"/><circle cx="78.08" cy="478" r="1.05"/><circle cx="79.62" cy="478.11" r="1.05"/><circle cx="80.95" cy="478.19" r="1.05"/><circle cx="82.77" cy="477.8" r="1.05"/><circle cx="83.89" cy="477.78" r="1.05"/><circle cx="85.45" cy="478.07" r="1.05"/><circle cx="87.22" cy="477.73" r="1.05"/><circle cx="88.32" cy="478.29" r="1.05"/><circle cx="90.14" cy="478.28" r="1.05"/><circle cx="91.74" cy="478.24" r="1.05"/><circle cx="92.95" cy="478.04" r="1.05"/><circle cx="94.73" cy="477.75" r="1.05"/><circle cx="95.98" cy="478.25" r="1.05"/><circle cx="97.53" cy="478.21" r="1.05"/><circle cx="99.08" cy="478.08" r="1.05"/><circle cx="100.57" cy="478.16" r="1.05"/><circle cx="101.92" cy="477.96" r="1.05"/><circle cx="103.37" cy="478.29" r="1.05"/><circle cx="105.01" cy="478.04" r="1.05"/><circle cx="106.49" cy="478.17" r="1.05"/><circle cx="108.18" cy="477.91" r="1.05"/><circle cx="109.28" cy="478.22" r="1.05"/><circle cx="111.27" cy="477.62" r="1.05"/><circle cx="112.23" cy="478.19" r="1.05"/><circle cx="114.26" cy="477.31" r="1.05"/><circle cx="115.57" cy="477.46" r="1.05"/><circle cx="117.19" cy="477.74" r="1.05"/><circle cx="118.33" cy="477.41" r="1.05"/><circle cx="119.94" cy="477.66" r="1.05"/><circle cx="121.31" cy="477.37" r="1.05"/><circle cx="122.83" cy="477.71" r="1.05"/><circle cx="124.43" cy="477.87" r="1.05"/><circle cx="125.77" cy="478.28" r="1.05"/><circle cx="127.74" cy="477.34" r="1.05"/><circle cx="128.72" cy="477.37" r="1.05"/><circle cx="130.22" cy="477.91" r="1.05"/><circle cx="132.2" cy="477.7" r="1.05"/><circle cx="133.53" cy="477.75" r="1.05"/><circle cx="135.08" cy="478.08" r="1.05"/><circle cx="136.55" cy="477.71" r="1.05"/><circle cx="137.96" cy="477.95" r="1.05"/><circle cx="139.46" cy="477.75" r="1.05"/><circle cx="140.71" cy="477.79" r="1.05"/><circle cx="142.34" cy="477.83" r="1.05"/><circle cx="144.16" cy="478.18" r="1.05"/><circle cx="145.31" cy="477.65" r="1.05"/><circle cx="146.98" cy="478.05" r="1.05"/><circle cx="148.46" cy="478.1" r="1.05"/><circle cx="149.76" cy="477.63" r="1.05"/><circle cx="151.22" cy="478.04" r="1.05"/><circle cx="153.08" cy="477.45" r="1.05"/><circle cx="154.67" cy="477.82" r="1.05"/><circle cx="156.01" cy="477.63" r="1.05"/><circle cx="157.43" cy="478.06" r="1.05"/><circle cx="159.27" cy="477.52" r="1.05"/><circle cx="160.8" cy="477.41" r="1.05"/><circle cx="162.14" cy="478.14" r="1.05"/><circle cx="163.79" cy="477.94" r="1.05"/><circle cx="165" cy="477.01" r="1.05"/><circle cx="166.3" cy="477.94" r="1.05"/><circle cx="168.17" cy="478.1" r="1.05"/><circle cx="169.41" cy="478.21" r="1.05"/><circle cx="171.15" cy="477.61" r="1.05"/><circle cx="172.36" cy="477.23" r="1.05"/><circle cx="174.19" cy="477.86" r="1.05"/><circle cx="175.75" cy="477.74" r="1.05"/><circle cx="176.82" cy="478.24" r="1.05"/><circle cx="178.39" cy="477.59" r="1.05"/><circle cx="179.72" cy="478.15" r="1.05"/><circle cx="181.76" cy="477.98" r="1.05"/><circle cx="183.11" cy="478.01" r="1.05"/><circle cx="184.67" cy="478.08" r="1.05"/><circle cx="185.77" cy="477.46" r="1.05"/><circle cx="187.42" cy="478.14" r="1.05"/><circle cx="189.22" cy="477.56" r="1.05"/><circle cx="190.73" cy="478.03" r="1.05"/><circle cx="191.76" cy="477.45" r="1.05"/><circle cx="193.44" cy="478.26" r="1.05"/><circle cx="195.18" cy="478.13" r="1.05"/><circle cx="196.55" cy="476.48" r="1.05"/><circle cx="197.92" cy="478.24" r="1.05"/><circle cx="199.31" cy="477.65" r="1.05"/><circle cx="201.15" cy="477.24" r="1.05"/><circle cx="202.35" cy="477.97" r="1.05"/><circle cx="204.08" cy="477.51" r="1.05"/><circle cx="205.6" cy="478.22" r="1.05"/><circle cx="206.89" cy="478.14" r="1.05"/><circle cx="208.29" cy="478.3" r="1.05"/><circle cx="210.07" cy="477.64" r="1.05"/><circle cx="211.74" cy="478" r="1.05"/><circle cx="212.78" cy="478.18" r="1.05"/><circle cx="214.21" cy="477.44" r="1.05"/><circle cx="215.7" cy="478.13" r="1.05"/><circle cx="217.41" cy="478.08" r="1.05"/><circle cx="218.83" cy="477.61" r="1.05"/><circle cx="220.32" cy="477.9" r="1.05"/><circle cx="222.07" cy="477.98" r="1.05"/><circle cx="223.76" cy="478.25" r="1.05"/><circle cx="224.85" cy="478.14" r="1.05"/><circle cx="226.58" cy="478.08" r="1.05"/><circle cx="228.22" cy="478.18" r="1.05"/><circle cx="229.36" cy="477.7" r="1.05"/><circle cx="230.71" cy="477.83" r="1.05"/><circle cx="232.41" cy="477.69" r="1.05"/><circle cx="234.09" cy="476.98" r="1.05"/><circle cx="235.64" cy="477.81" r="1.05"/><circle cx="236.85" cy="478.15" r="1.05"/><circle cx="238.52" cy="478.2" r="1.05"/><circle cx="239.94" cy="478.28" r="1.05"/><circle cx="241.67" cy="478.09" r="1.05"/><circle cx="242.71" cy="476.95" r="1.05"/><circle cx="244.29" cy="477.85" r="1.05"/><circle cx="245.82" cy="477.74" r="1.05"/><circle cx="247.58" cy="477.85" r="1.05"/><circle cx="249.19" cy="478.06" r="1.05"/><circle cx="250.38" cy="477.84" r="1.05"/><circle cx="251.73" cy="477.49" r="1.05"/><circle cx="253.63" cy="477.63" r="1.05"/><circle cx="254.7" cy="477.75" r="1.05"/><circle cx="256.48" cy="477.48" r="1.05"/><circle cx="258.15" cy="477.89" r="1.05"/><circle cx="259.26" cy="478.17" r="1.05"/><circle cx="260.84" cy="477.77" r="1.05"/><circle cx="262.65" cy="478.17" r="1.05"/><circle cx="264.12" cy="477.77" r="1.05"/><circle cx="265.36" cy="477.52" r="1.05"/><circle cx="267.03" cy="477.33" r="1.05"/><circle cx="268.51" cy="477.89" r="1.05"/><circle cx="269.86" cy="477.32" r="1.05"/><circle cx="271.33" cy="477.09" r="1.05"/><circle cx="273.23" cy="477.84" r="1.05"/><circle cx="274.34" cy="478.26" r="1.05"/><circle cx="276.15" cy="477.37" r="1.05"/><circle cx="277.4" cy="477.96" r="1.05"/><circle cx="279.23" cy="478.09" r="1.05"/><circle cx="280.74" cy="477.91" r="1.05"/><circle cx="282.08" cy="477.99" r="1.05"/><circle cx="283.79" cy="477.47" r="1.05"/><circle cx="172.59" cy="475.61" r="1.05"/><circle cx="254.08" cy="475.03" r="1.05"/><circle cx="165.81" cy="476.35" r="1.05"/><circle cx="138.63" cy="475.06" r="1.05"/><circle cx="118.51" cy="476.25" r="1.05"/><circle cx="265.27" cy="476.26" r="1.05"/><circle cx="104.36" cy="476.04" r="1.05"/><circle cx="269.08" cy="476.5" r="1.05"/><circle cx="146.42" cy="476.42" r="1.05"/><circle cx="82.75" cy="476.37" r="1.05"/><circle cx="219.45" cy="475.36" r="1.05"/><circle cx="228.72" cy="475.22" r="1.05"/><circle cx="87.81" cy="475.64" r="1.05"/><circle cx="245.69" cy="475.99" r="1.05"/><circle cx="246.11" cy="476.26" r="1.05"/><circle cx="256.24" cy="476.32" r="1.05"/><circle cx="266.03" cy="476.06" r="1.05"/><circle cx="117.2" cy="476.4" r="1.05"/><circle cx="97.51" cy="474.33" r="1.05"/><circle cx="244.52" cy="476.1" r="1.05"/><circle cx="207.18" cy="475.83" r="1.05"/><circle cx="134.35" cy="475.09" r="1.05"/><circle cx="94.97" cy="474.95" r="1.05"/><circle cx="117.05" cy="475.43" r="1.05"/><circle cx="141.02" cy="476.38" r="1.05"/><circle cx="127.91" cy="476.49" r="1.05"/><circle cx="133.34" cy="476.35" r="1.05"/><circle cx="141.37" cy="475.48" r="1.05"/><circle cx="79.7" cy="440.2" r="1.05"/><circle cx="80.3" cy="458" r="1.05"/><circle cx="84.4" cy="456.4" r="1.05"/><circle cx="83.6" cy="469.5" r="1.05"/><circle cx="87.4" cy="472.8" r="1.05"/><circle cx="81.7" cy="474.2" r="1.05"/><circle cx="83.2" cy="475.5" r="1.05"/><circle cx="94.3" cy="470" r="1.05"/><circle cx="97.4" cy="468.9" r="1.05"/><circle cx="94.3" cy="473.1" r="1.05"/><circle cx="104.3" cy="473.7" r="1.05"/><circle cx="111.9" cy="473.7" r="1.05"/><circle cx="134" cy="470.7" r="1.05"/><circle cx="137.9" cy="473.7" r="1.05"/><circle cx="209" cy="469" r="1.05"/><circle cx="221.8" cy="468.1" r="1.05"/><circle cx="221.1" cy="470.6" r="1.05"/><circle cx="221.1" cy="472.6" r="1.05"/><circle cx="252.7" cy="470.7" r="1.05"/><circle cx="257.3" cy="471.4" r="1.05"/><circle cx="263.9" cy="473.3" r="1.05"/><circle cx="278.4" cy="473.3" r="1.05"/></g>
<circle cx="95.2" cy="433.9" r="2.1" fill="#a09aa6"/>
<circle cx="96" cy="455.8" r="1.8" fill="#27296c" stroke="#7db94a" stroke-width="0.9"/>
<circle cx="96.6" cy="457.5" r="1.8" fill="#27296c" stroke="#7db94a" stroke-width="0.9"/>
<circle cx="97.9" cy="459.8" r="1.8" fill="#27296c" stroke="#7db94a" stroke-width="0.9"/>
<circle cx="99.6" cy="467.1" r="1.8" fill="#27296c" stroke="#7db94a" stroke-width="0.9"/>
<line x1="72.4" y1="516.4" x2="218.5" y2="516.4" stroke="#d9aa62" stroke-width="1.1"/>
<path d="M217 514.6L220 516.4L217 518.2Z" fill="#c98f2c"/>
<text x="146.7" y="513.3" font-size="7.4" text-anchor="middle" fill="#444" font-style="italic">FTO</text>
<text x="193.8" y="493.2" font-size="7.3" text-anchor="middle" fill="#444" font-style="italic">FTO&#8211;IT1</text>
<path d="M191 493.92L193.8 495.6L191 497.28Z" fill="#c98f2c"/>
<text x="282.5" y="502.2" font-size="7.3" text-anchor="middle" fill="#444" font-style="italic">IRX3</text>
<path d="M284.8 491.52L282 493.2L284.8 494.88Z" fill="#c98f2c"/>
<line x1="270" y1="516" x2="276.5" y2="516" stroke="#c98f2c" stroke-width="1.1"/>
<path d="M270.8 514.32L268 516L270.8 517.68Z" fill="#c98f2c"/>
<text x="272" y="522.8" font-size="7.5" text-anchor="middle" fill="#444" font-style="italic">LOC100996338</text>
<line x1="73.5" y1="524.2" x2="285.4" y2="524.2" stroke="#c4c4c4" stroke-width="1.2"/>
<line x1="73.5" y1="524.2" x2="73.5" y2="528.4" stroke="#777" stroke-width="0.8"/>
<text x="73.5" y="539" font-size="7.9" text-anchor="middle" fill="#444">53.74</text>
<line x1="113.3" y1="524.2" x2="113.3" y2="528.4" stroke="#777" stroke-width="0.8"/>
<text x="113.3" y="539" font-size="7.9" text-anchor="middle" fill="#444">53.85</text>
<line x1="156.4" y1="524.2" x2="156.4" y2="528.4" stroke="#777" stroke-width="0.8"/>
<text x="156.4" y="539" font-size="7.9" text-anchor="middle" fill="#444">53.97</text>
<line x1="199.6" y1="524.2" x2="199.6" y2="528.4" stroke="#777" stroke-width="0.8"/>
<text x="199.6" y="539" font-size="7.9" text-anchor="middle" fill="#444">54.09</text>
<line x1="242.5" y1="524.2" x2="242.5" y2="528.4" stroke="#777" stroke-width="0.8"/>
<text x="242.5" y="539" font-size="7.9" text-anchor="middle" fill="#444">54.21</text>
<line x1="285.4" y1="524.2" x2="285.4" y2="528.4" stroke="#777" stroke-width="0.8"/>
<text x="285.4" y="539" font-size="7.9" text-anchor="middle" fill="#444">54.33</text>
<text x="179.7" y="551.6" font-size="8.7" text-anchor="middle" fill="#3a3a3a">Chr. 16 (Mb)</text>
<text x="365.6" y="307.8" font-size="12.4" text-anchor="start" fill="#111" font-weight="bold">d</text>
<line x1="409.4" y1="308.4" x2="409.4" y2="354.4" stroke="#7a7a7a" stroke-width="0.9"/>
<line x1="405.6" y1="308.3" x2="409.4" y2="308.3" stroke="#777" stroke-width="0.8"/>
<text x="401.9" y="310.9" font-size="8.2" text-anchor="end" fill="#444" font-family="Liberation Serif, serif">9</text>
<line x1="405.6" y1="319.5" x2="409.4" y2="319.5" stroke="#777" stroke-width="0.8"/>
<text x="401.9" y="322.1" font-size="8.2" text-anchor="end" fill="#444" font-family="Liberation Serif, serif">6</text>
<line x1="405.6" y1="331.2" x2="409.4" y2="331.2" stroke="#777" stroke-width="0.8"/>
<text x="401.9" y="333.8" font-size="8.2" text-anchor="end" fill="#444" font-family="Liberation Serif, serif">4</text>
<line x1="405.6" y1="342.6" x2="409.4" y2="342.6" stroke="#777" stroke-width="0.8"/>
<text x="401.9" y="345.2" font-size="8.2" text-anchor="end" fill="#444" font-family="Liberation Serif, serif">2</text>
<line x1="405.6" y1="354.4" x2="409.4" y2="354.4" stroke="#777" stroke-width="0.8"/>
<text x="401.9" y="357" font-size="8.2" text-anchor="end" fill="#444" font-family="Liberation Serif, serif">0</text>
<line x1="409.4" y1="363.6" x2="409.4" y2="409.4" stroke="#7a7a7a" stroke-width="0.9"/>
<line x1="405.6" y1="372.7" x2="409.4" y2="372.7" stroke="#777" stroke-width="0.8"/>
<text x="401.9" y="375.4" font-size="7.6" text-anchor="end" fill="#444">0.8</text>
<line x1="405.6" y1="391.1" x2="409.4" y2="391.1" stroke="#777" stroke-width="0.8"/>
<text x="401.9" y="393.8" font-size="7.6" text-anchor="end" fill="#444">0.4</text>
<line x1="405.6" y1="409.4" x2="409.4" y2="409.4" stroke="#777" stroke-width="0.8"/>
<text x="401.9" y="412.1" font-size="7.6" text-anchor="end" fill="#444">0</text>
<line x1="409.4" y1="418.9" x2="409.4" y2="464.7" stroke="#7a7a7a" stroke-width="0.9"/>
<line x1="405.6" y1="428.1" x2="409.4" y2="428.1" stroke="#777" stroke-width="0.8"/>
<text x="401.9" y="430.8" font-size="7.6" text-anchor="end" fill="#444">0.8</text>
<line x1="405.6" y1="446.4" x2="409.4" y2="446.4" stroke="#777" stroke-width="0.8"/>
<text x="401.9" y="449.1" font-size="7.6" text-anchor="end" fill="#444">0.4</text>
<line x1="405.6" y1="464.7" x2="409.4" y2="464.7" stroke="#777" stroke-width="0.8"/>
<text x="401.9" y="467.4" font-size="7.6" text-anchor="end" fill="#444">0</text>
<text font-size="8.6" fill="#3a3a3a" text-anchor="middle" transform="translate(372.3 331.5) rotate(-90)">&#8211;log<tspan font-size="6" dy="1.8">10</tspan></text>
<text x="0" y="0" font-size="8.2" text-anchor="middle" fill="#3a3a3a" transform="translate(382.9 331) rotate(-90)">(P GWAS)</text>
<text x="0" y="0" font-size="8.8" text-anchor="middle" fill="#3a3a3a" transform="translate(382.9 384) rotate(-90)">PIP(SuSiE-inf)</text>
<text x="0" y="0" font-size="8.2" text-anchor="middle" fill="#3a3a3a" transform="translate(382.9 443.5) rotate(-90)">PIP (SBayeRC)</text>
<line x1="417.6" y1="314.6" x2="613.5" y2="314.6" stroke="#d5557d" stroke-width="0.95" stroke-dasharray="1.8 1.5"/>
<line x1="417.6" y1="368.4" x2="613.5" y2="368.4" stroke="#d5557d" stroke-width="0.95" stroke-dasharray="1.8 1.5"/>
<line x1="417.6" y1="423.5" x2="613.5" y2="423.5" stroke="#d5557d" stroke-width="0.95" stroke-dasharray="1.8 1.5"/>
<line x1="417.6" y1="359.1" x2="613.5" y2="359.1" stroke="#b5b5b5" stroke-width="0.9" stroke-dasharray="0.9 1.35"/>
<line x1="417.6" y1="414.4" x2="613.5" y2="414.4" stroke="#b5b5b5" stroke-width="0.9" stroke-dasharray="0.9 1.35"/>
<path d="M492.7 355.3 L492.7 353.2 L509 352.6 L511 351.2 L615 350.6 L615.3 355.3 Z" fill="#a5252a"/>
<g fill="#a5252a"><circle cx="436.46" cy="353.06" r="1.1"/><circle cx="426.59" cy="351.6" r="1.1"/><circle cx="425.1" cy="349.87" r="1.1"/><circle cx="422.17" cy="353.17" r="1.1"/><circle cx="435.75" cy="351.78" r="1.1"/><circle cx="421.85" cy="341.8" r="1.1"/><circle cx="417.4" cy="354.53" r="1.1"/><circle cx="435.23" cy="348.46" r="1.1"/><circle cx="425.11" cy="343.38" r="1.1"/><circle cx="438.54" cy="352.31" r="1.1"/><circle cx="433.04" cy="347.07" r="1.1"/><circle cx="431.62" cy="346.55" r="1.1"/><circle cx="432.99" cy="344.32" r="1.1"/><circle cx="425.3" cy="353.45" r="1.1"/><circle cx="437.33" cy="347.97" r="1.1"/><circle cx="417.87" cy="344.64" r="1.1"/><circle cx="437.58" cy="347.32" r="1.1"/><circle cx="437.19" cy="347.9" r="1.1"/><circle cx="429.26" cy="348.3" r="1.1"/><circle cx="431.84" cy="353.83" r="1.1"/><circle cx="420.79" cy="347.63" r="1.1"/><circle cx="433.99" cy="353.55" r="1.1"/><circle cx="434.7" cy="343.2" r="1.1"/><circle cx="427.7" cy="351.89" r="1.1"/><circle cx="421.61" cy="352.24" r="1.1"/><circle cx="436.28" cy="349.52" r="1.1"/><circle cx="422.87" cy="342.3" r="1.1"/><circle cx="420.92" cy="348.61" r="1.1"/><circle cx="439.24" cy="346.95" r="1.1"/><circle cx="438.95" cy="351.82" r="1.1"/><circle cx="439.44" cy="343.03" r="1.1"/><circle cx="427.09" cy="353.77" r="1.1"/><circle cx="419.7" cy="343.84" r="1.1"/><circle cx="418.06" cy="347.94" r="1.1"/><circle cx="432.9" cy="349.96" r="1.1"/><circle cx="427.72" cy="349.16" r="1.1"/><circle cx="426.41" cy="343.73" r="1.1"/><circle cx="426.98" cy="354.31" r="1.1"/><circle cx="426.78" cy="353.82" r="1.1"/><circle cx="437.1" cy="349.61" r="1.1"/><circle cx="436.48" cy="353.67" r="1.1"/><circle cx="427.51" cy="353.49" r="1.1"/><circle cx="419.5" cy="349.14" r="1.1"/><circle cx="433.35" cy="349.91" r="1.1"/><circle cx="417.7" cy="343" r="1.1"/><circle cx="421.6" cy="343.9" r="1.1"/><circle cx="424.3" cy="343.9" r="1.1"/><circle cx="430.8" cy="343.9" r="1.1"/><circle cx="435.2" cy="342.1" r="1.1"/><circle cx="437.4" cy="343.9" r="1.1"/><circle cx="439.6" cy="342" r="1.1"/><circle cx="443.5" cy="354.2" r="1.1"/><circle cx="464.64" cy="340.7" r="1.1"/><circle cx="464.32" cy="341.66" r="1.1"/><circle cx="464.48" cy="340.56" r="1.1"/><circle cx="464.27" cy="339.35" r="1.1"/><circle cx="465.42" cy="342.4" r="1.1"/><circle cx="465.12" cy="340.32" r="1.1"/><circle cx="463.11" cy="341.36" r="1.1"/><circle cx="465.85" cy="341.47" r="1.1"/><circle cx="465.65" cy="342.53" r="1.1"/><circle cx="465.79" cy="340.8" r="1.1"/><circle cx="465.53" cy="350.83" r="1.1"/><circle cx="465.39" cy="352.24" r="1.1"/><circle cx="464.29" cy="353.13" r="1.1"/><circle cx="464.95" cy="350.67" r="1.1"/><circle cx="463.97" cy="348.18" r="1.1"/><circle cx="465.65" cy="351.97" r="1.1"/><circle cx="464.34" cy="347.48" r="1.1"/><circle cx="465.53" cy="354.38" r="1.1"/><circle cx="464.89" cy="348.69" r="1.1"/><circle cx="492.94" cy="353.02" r="1.1"/><circle cx="493.95" cy="353.5" r="1.1"/><circle cx="495.12" cy="353.42" r="1.1"/><circle cx="495.86" cy="353.27" r="1.1"/><circle cx="497.14" cy="354.13" r="1.1"/><circle cx="498.02" cy="353.26" r="1.1"/><circle cx="499.18" cy="353.47" r="1.1"/><circle cx="499.83" cy="353.16" r="1.1"/><circle cx="501.17" cy="353.97" r="1.1"/><circle cx="502.08" cy="353.56" r="1.1"/><circle cx="503.04" cy="353.27" r="1.1"/><circle cx="504.28" cy="353.42" r="1.1"/><circle cx="505.08" cy="353.98" r="1.1"/><circle cx="506.19" cy="353.56" r="1.1"/><circle cx="506.88" cy="353.66" r="1.1"/><circle cx="507.78" cy="354" r="1.1"/><circle cx="508.91" cy="354.02" r="1.1"/><circle cx="497.55" cy="350.44" r="1.1"/><circle cx="497.31" cy="350.57" r="1.1"/><circle cx="496.16" cy="349.51" r="1.1"/><circle cx="505.27" cy="350.2" r="1.1"/><circle cx="497.16" cy="350.25" r="1.1"/><circle cx="501.15" cy="350.57" r="1.1"/><circle cx="503.83" cy="351.15" r="1.1"/><circle cx="499.16" cy="351.82" r="1.1"/><circle cx="507.53" cy="349.64" r="1.1"/><circle cx="507.07" cy="351.76" r="1.1"/><circle cx="506.33" cy="349.85" r="1.1"/><circle cx="507.13" cy="351.08" r="1.1"/><circle cx="493.25" cy="349.53" r="1.1"/><circle cx="509.18" cy="351.14" r="1.1"/><circle cx="534.75" cy="348.6" r="1.1"/><circle cx="591.06" cy="351.75" r="1.1"/><circle cx="592.71" cy="346.87" r="1.1"/><circle cx="573.1" cy="350.8" r="1.1"/><circle cx="603.65" cy="350.84" r="1.1"/><circle cx="529.12" cy="350.23" r="1.1"/><circle cx="587.38" cy="348.61" r="1.1"/><circle cx="567.39" cy="348.15" r="1.1"/><circle cx="560.76" cy="346.17" r="1.1"/><circle cx="523.45" cy="348.94" r="1.1"/><circle cx="565.73" cy="351.45" r="1.1"/><circle cx="558.07" cy="349.4" r="1.1"/><circle cx="597.94" cy="348.2" r="1.1"/><circle cx="610.79" cy="346.28" r="1.1"/><circle cx="576.07" cy="345.98" r="1.1"/><circle cx="581.04" cy="352.11" r="1.1"/><circle cx="562.64" cy="348.9" r="1.1"/><circle cx="511.63" cy="350.4" r="1.1"/><circle cx="544.23" cy="351.31" r="1.1"/><circle cx="558.78" cy="349.16" r="1.1"/><circle cx="530.55" cy="348.59" r="1.1"/><circle cx="567.28" cy="351.39" r="1.1"/><circle cx="551.2" cy="349.88" r="1.1"/><circle cx="612.32" cy="349.99" r="1.1"/><circle cx="543.41" cy="350.26" r="1.1"/><circle cx="575.93" cy="350.9" r="1.1"/><circle cx="602.76" cy="348.91" r="1.1"/><circle cx="508.66" cy="347.02" r="1.1"/><circle cx="573.13" cy="350.01" r="1.1"/><circle cx="605.35" cy="349.72" r="1.1"/><circle cx="575.07" cy="350.26" r="1.1"/><circle cx="580.86" cy="347.16" r="1.1"/><circle cx="556.99" cy="348.35" r="1.1"/><circle cx="511.96" cy="350.76" r="1.1"/><circle cx="578.16" cy="348.16" r="1.1"/><circle cx="592.16" cy="348.92" r="1.1"/><circle cx="553.13" cy="347.84" r="1.1"/><circle cx="576.67" cy="350.17" r="1.1"/><circle cx="512.21" cy="346.56" r="1.1"/><circle cx="569.56" cy="351.68" r="1.1"/><circle cx="509.51" cy="348.28" r="1.1"/><circle cx="608.34" cy="352.08" r="1.1"/><circle cx="552.13" cy="346.45" r="1.1"/><circle cx="530.71" cy="347.52" r="1.1"/><circle cx="581.16" cy="346.58" r="1.1"/><circle cx="517.43" cy="347.58" r="1.1"/><circle cx="584.97" cy="347.35" r="1.1"/><circle cx="528.05" cy="346.12" r="1.1"/><circle cx="584.35" cy="351.28" r="1.1"/><circle cx="517.02" cy="349.82" r="1.1"/><circle cx="557.28" cy="352.03" r="1.1"/><circle cx="584.74" cy="350.56" r="1.1"/><circle cx="595.46" cy="350.93" r="1.1"/><circle cx="525.76" cy="351.31" r="1.1"/><circle cx="514.4" cy="348.15" r="1.1"/><circle cx="554.94" cy="351.25" r="1.1"/><circle cx="546.87" cy="349.93" r="1.1"/><circle cx="552.72" cy="348.27" r="1.1"/><circle cx="609.11" cy="350.82" r="1.1"/><circle cx="539.29" cy="346.19" r="1.1"/><circle cx="583.25" cy="350.35" r="1.1"/><circle cx="612.59" cy="351.12" r="1.1"/><circle cx="541.02" cy="348.54" r="1.1"/><circle cx="548.3" cy="350.18" r="1.1"/><circle cx="603.88" cy="347.51" r="1.1"/><circle cx="536.15" cy="348.5" r="1.1"/><circle cx="595.31" cy="351.42" r="1.1"/><circle cx="594.86" cy="351.35" r="1.1"/><circle cx="537.3" cy="351.25" r="1.1"/><circle cx="581.26" cy="347.9" r="1.1"/><circle cx="567.24" cy="351.03" r="1.1"/><circle cx="607.69" cy="347.3" r="1.1"/><circle cx="580.51" cy="348.7" r="1.1"/><circle cx="588.37" cy="350.87" r="1.1"/><circle cx="517.38" cy="350.96" r="1.1"/><circle cx="532.92" cy="349.51" r="1.1"/><circle cx="602.71" cy="349.14" r="1.1"/><circle cx="571.06" cy="348.35" r="1.1"/><circle cx="583.01" cy="348.12" r="1.1"/><circle cx="551.07" cy="347.71" r="1.1"/><circle cx="614.69" cy="350.47" r="1.1"/><circle cx="592.25" cy="346.8" r="1.1"/><circle cx="544.91" cy="347.66" r="1.1"/><circle cx="613.97" cy="351.34" r="1.1"/><circle cx="568.69" cy="347.47" r="1.1"/><circle cx="553.58" cy="351.86" r="1.1"/><circle cx="595.61" cy="347.68" r="1.1"/><circle cx="529.51" cy="347.74" r="1.1"/><circle cx="567.64" cy="351.37" r="1.1"/><circle cx="609.35" cy="350.31" r="1.1"/><circle cx="550.52" cy="346.57" r="1.1"/><circle cx="535.52" cy="349.41" r="1.1"/><circle cx="610.34" cy="350.09" r="1.1"/><circle cx="555.97" cy="346.82" r="1.1"/><circle cx="614.11" cy="348.7" r="1.1"/><circle cx="545.67" cy="351.58" r="1.1"/><circle cx="597.58" cy="346.1" r="1.1"/><circle cx="583.93" cy="349.94" r="1.1"/><circle cx="513.97" cy="346.73" r="1.1"/><circle cx="608.51" cy="350.28" r="1.1"/><circle cx="589.1" cy="348.71" r="1.1"/><circle cx="521.28" cy="348.62" r="1.1"/><circle cx="523.32" cy="350.87" r="1.1"/><circle cx="528.88" cy="346.03" r="1.1"/><circle cx="531.6" cy="351.78" r="1.1"/><circle cx="603.09" cy="346.69" r="1.1"/><circle cx="518.38" cy="351.74" r="1.1"/><circle cx="575.24" cy="351.37" r="1.1"/><circle cx="559.1" cy="348.54" r="1.1"/><circle cx="514.07" cy="350.37" r="1.1"/><circle cx="523.48" cy="349.44" r="1.1"/><circle cx="524.66" cy="347.54" r="1.1"/><circle cx="543.79" cy="346.87" r="1.1"/><circle cx="542.03" cy="352.1" r="1.1"/><circle cx="514.08" cy="351.53" r="1.1"/><circle cx="530.59" cy="348.71" r="1.1"/><circle cx="529.57" cy="348.13" r="1.1"/><circle cx="614.8" cy="348.86" r="1.1"/><circle cx="603.89" cy="346.17" r="1.1"/><circle cx="539.41" cy="351.29" r="1.1"/><circle cx="544.48" cy="351.41" r="1.1"/><circle cx="564.34" cy="346.99" r="1.1"/><circle cx="605.58" cy="347.2" r="1.1"/><circle cx="522.77" cy="346.95" r="1.1"/><circle cx="584.14" cy="347.91" r="1.1"/><circle cx="573.12" cy="348.47" r="1.1"/><circle cx="573.53" cy="350.33" r="1.1"/><circle cx="570.37" cy="350.94" r="1.1"/><circle cx="551.67" cy="351.31" r="1.1"/><circle cx="543.87" cy="351.19" r="1.1"/><circle cx="560.75" cy="345.9" r="1.1"/><circle cx="559" cy="348.37" r="1.1"/><circle cx="596.98" cy="349.24" r="1.1"/><circle cx="571.65" cy="345.83" r="1.1"/><circle cx="555.7" cy="350.86" r="1.1"/><circle cx="595.37" cy="350.84" r="1.1"/><circle cx="548.81" cy="351.6" r="1.1"/><circle cx="610.08" cy="348.97" r="1.1"/><circle cx="564.76" cy="352.05" r="1.1"/><circle cx="531.94" cy="348.68" r="1.1"/><circle cx="595.44" cy="350.79" r="1.1"/><circle cx="528.87" cy="345.91" r="1.1"/><circle cx="569.68" cy="349.15" r="1.1"/><circle cx="519.01" cy="351.36" r="1.1"/><circle cx="512.83" cy="346.59" r="1.1"/><circle cx="561.58" cy="349.41" r="1.1"/><circle cx="522.65" cy="349.59" r="1.1"/><circle cx="523.75" cy="349.47" r="1.1"/><circle cx="525.58" cy="351.09" r="1.1"/><circle cx="549.6" cy="348.49" r="1.1"/><circle cx="564.24" cy="348.33" r="1.1"/><circle cx="591.13" cy="349.07" r="1.1"/><circle cx="554.61" cy="352.08" r="1.1"/><circle cx="605.67" cy="351.02" r="1.1"/><circle cx="513.73" cy="349.11" r="1.1"/><circle cx="607.97" cy="347.4" r="1.1"/><circle cx="575.7" cy="348.13" r="1.1"/><circle cx="515.41" cy="348.57" r="1.1"/><circle cx="510.23" cy="346.69" r="1.1"/><circle cx="591.09" cy="351.8" r="1.1"/><circle cx="594.59" cy="351.46" r="1.1"/><circle cx="511.68" cy="350.69" r="1.1"/><circle cx="537.26" cy="349.27" r="1.1"/><circle cx="574.47" cy="347.4" r="1.1"/><circle cx="554.4" cy="348.94" r="1.1"/><circle cx="577.28" cy="346.57" r="1.1"/><circle cx="610.3" cy="349.69" r="1.1"/><circle cx="565.12" cy="348.12" r="1.1"/><circle cx="539.42" cy="348.64" r="1.1"/><circle cx="517.4" cy="349.3" r="1.1"/><circle cx="573.26" cy="349.45" r="1.1"/><circle cx="529.53" cy="350.35" r="1.1"/><circle cx="566.64" cy="349.72" r="1.1"/><circle cx="541.22" cy="349.91" r="1.1"/><circle cx="549" cy="349.16" r="1.1"/><circle cx="600.22" cy="347.33" r="1.1"/><circle cx="560.58" cy="347.62" r="1.1"/><circle cx="539.62" cy="347.81" r="1.1"/><circle cx="601.23" cy="349.32" r="1.1"/><circle cx="555.07" cy="348.56" r="1.1"/><circle cx="610.65" cy="349.08" r="1.1"/><circle cx="545.71" cy="350.12" r="1.1"/><circle cx="598.95" cy="351.06" r="1.1"/><circle cx="587.05" cy="350.56" r="1.1"/><circle cx="558.85" cy="350.82" r="1.1"/><circle cx="605.87" cy="346.61" r="1.1"/><circle cx="508.46" cy="350.7" r="1.1"/><circle cx="561.27" cy="351.96" r="1.1"/><circle cx="552.72" cy="350.82" r="1.1"/><circle cx="572.98" cy="348.23" r="1.1"/><circle cx="557" cy="349.34" r="1.1"/><circle cx="567.42" cy="351.2" r="1.1"/><circle cx="598.9" cy="349" r="1.1"/><circle cx="527.71" cy="350.2" r="1.1"/><circle cx="570.23" cy="346.36" r="1.1"/><circle cx="542.65" cy="351.2" r="1.1"/><circle cx="610.59" cy="347.11" r="1.1"/><circle cx="605.43" cy="350.16" r="1.1"/><circle cx="561.22" cy="351.69" r="1.1"/><circle cx="565.62" cy="352.19" r="1.1"/><circle cx="563.35" cy="350.19" r="1.1"/><circle cx="546.28" cy="349.61" r="1.1"/><circle cx="609.43" cy="350.13" r="1.1"/><circle cx="518.59" cy="348.2" r="1.1"/><circle cx="568.06" cy="349.47" r="1.1"/><circle cx="611.2" cy="348.91" r="1.1"/><circle cx="574.83" cy="349.99" r="1.1"/><circle cx="595.3" cy="352.1" r="1.1"/><circle cx="596.39" cy="351.7" r="1.1"/><circle cx="581.82" cy="351.05" r="1.1"/><circle cx="603.03" cy="348.86" r="1.1"/><circle cx="562.74" cy="348.36" r="1.1"/><circle cx="575.42" cy="349.66" r="1.1"/><circle cx="614.33" cy="349.43" r="1.1"/><circle cx="592.28" cy="347.76" r="1.1"/><circle cx="508.42" cy="347.75" r="1.1"/><circle cx="570.72" cy="349.84" r="1.1"/><circle cx="567.2" cy="347.5" r="1.1"/><circle cx="564.87" cy="352.18" r="1.1"/><circle cx="551.99" cy="351.07" r="1.1"/><circle cx="519.41" cy="349.96" r="1.1"/><circle cx="596.08" cy="349.72" r="1.1"/><circle cx="514.65" cy="345.88" r="1.1"/><circle cx="542.54" cy="350.38" r="1.1"/><circle cx="526.13" cy="351.75" r="1.1"/><circle cx="570.3" cy="348.03" r="1.1"/><circle cx="549.27" cy="346.15" r="1.1"/><circle cx="570.34" cy="351.94" r="1.1"/><circle cx="574.36" cy="351.87" r="1.1"/><circle cx="599.45" cy="347.81" r="1.1"/><circle cx="595.3" cy="347.74" r="1.1"/><circle cx="610.72" cy="348.97" r="1.1"/><circle cx="533.99" cy="348.29" r="1.1"/><circle cx="531.69" cy="347.78" r="1.1"/><circle cx="559.83" cy="348.32" r="1.1"/><circle cx="546.35" cy="346.99" r="1.1"/><circle cx="539.1" cy="350.01" r="1.1"/><circle cx="549.26" cy="348.08" r="1.1"/><circle cx="596.36" cy="348.4" r="1.1"/><circle cx="538.34" cy="350.62" r="1.1"/><circle cx="544.53" cy="346.8" r="1.1"/><circle cx="517.91" cy="347.53" r="1.1"/><circle cx="521.67" cy="348.64" r="1.1"/><circle cx="594.13" cy="346.82" r="1.1"/><circle cx="585.3" cy="348.21" r="1.1"/><circle cx="530.26" cy="351.89" r="1.1"/><circle cx="532.32" cy="350.82" r="1.1"/><circle cx="535.9" cy="351.56" r="1.1"/><circle cx="547.38" cy="347.38" r="1.1"/><circle cx="530.74" cy="349.91" r="1.1"/><circle cx="566.06" cy="347.53" r="1.1"/><circle cx="549.18" cy="350.01" r="1.1"/><circle cx="541.25" cy="348.33" r="1.1"/><circle cx="599.06" cy="347.85" r="1.1"/><circle cx="519.66" cy="349.4" r="1.1"/><circle cx="561.54" cy="348.96" r="1.1"/><circle cx="532.23" cy="346.61" r="1.1"/><circle cx="538.21" cy="348.38" r="1.1"/><circle cx="590.92" cy="351.45" r="1.1"/><circle cx="522.14" cy="350.69" r="1.1"/><circle cx="579.01" cy="348.05" r="1.1"/><circle cx="578.52" cy="351.48" r="1.1"/><circle cx="545.68" cy="348.04" r="1.1"/><circle cx="605.66" cy="350.5" r="1.1"/><circle cx="512.33" cy="348.43" r="1.1"/><circle cx="540.43" cy="348.96" r="1.1"/><circle cx="576.3" cy="346.95" r="1.1"/><circle cx="569.01" cy="349.54" r="1.1"/><circle cx="581.22" cy="351.42" r="1.1"/><circle cx="591.08" cy="351.51" r="1.1"/><circle cx="572.99" cy="348.02" r="1.1"/><circle cx="592.68" cy="347.14" r="1.1"/><circle cx="588.2" cy="346.35" r="1.1"/><circle cx="550.12" cy="350.58" r="1.1"/><circle cx="538.08" cy="346.38" r="1.1"/><circle cx="553.37" cy="351.75" r="1.1"/><circle cx="587.03" cy="351.11" r="1.1"/><circle cx="556.45" cy="346.15" r="1.1"/><circle cx="553.83" cy="349.08" r="1.1"/><circle cx="521.66" cy="350.8" r="1.1"/><circle cx="594.21" cy="347.47" r="1.1"/><circle cx="611.73" cy="349.88" r="1.1"/><circle cx="534.72" cy="346.18" r="1.1"/><circle cx="552.05" cy="348.14" r="1.1"/><circle cx="583.65" cy="348.64" r="1.1"/><circle cx="563.15" cy="348.65" r="1.1"/><circle cx="545.61" cy="347.72" r="1.1"/><circle cx="523.18" cy="351.33" r="1.1"/><circle cx="566.66" cy="350.63" r="1.1"/><circle cx="572.06" cy="348.75" r="1.1"/><circle cx="596.94" cy="349.19" r="1.1"/><circle cx="530.09" cy="348.43" r="1.1"/><circle cx="583.07" cy="349.03" r="1.1"/><circle cx="558.15" cy="347.84" r="1.1"/><circle cx="509.16" cy="352.15" r="1.1"/><circle cx="516.98" cy="350.39" r="1.1"/><circle cx="568.31" cy="346.5" r="1.1"/><circle cx="554.46" cy="347.01" r="1.1"/><circle cx="508.89" cy="351.69" r="1.1"/><circle cx="575.17" cy="351.79" r="1.1"/><circle cx="534.9" cy="347.63" r="1.1"/><circle cx="590.86" cy="348.37" r="1.1"/><circle cx="576.28" cy="351.21" r="1.1"/><circle cx="526.03" cy="350.82" r="1.1"/><circle cx="587.43" cy="351.38" r="1.1"/><circle cx="542.26" cy="348.16" r="1.1"/><circle cx="547.51" cy="347.69" r="1.1"/><circle cx="568.66" cy="349.82" r="1.1"/><circle cx="583.5" cy="351.59" r="1.1"/><circle cx="560.9" cy="348.91" r="1.1"/><circle cx="570.18" cy="346.31" r="1.1"/><circle cx="525.51" cy="348.64" r="1.1"/><circle cx="517.59" cy="346.06" r="1.1"/><circle cx="528.42" cy="351.45" r="1.1"/><circle cx="599.52" cy="350.84" r="1.1"/><circle cx="538.31" cy="350.03" r="1.1"/><circle cx="553.07" cy="347.97" r="1.1"/><circle cx="579.27" cy="351.09" r="1.1"/><circle cx="525.6" cy="347.69" r="1.1"/><circle cx="568.28" cy="347.9" r="1.1"/><circle cx="542.64" cy="348.75" r="1.1"/><circle cx="605.23" cy="351.34" r="1.1"/><circle cx="610.91" cy="349.77" r="1.1"/><circle cx="514.42" cy="350.13" r="1.1"/><circle cx="539.78" cy="349.46" r="1.1"/><circle cx="559.44" cy="349.11" r="1.1"/><circle cx="602.71" cy="350.69" r="1.1"/><circle cx="555.87" cy="346.35" r="1.1"/><circle cx="547.81" cy="349.52" r="1.1"/><circle cx="564.71" cy="349.41" r="1.1"/><circle cx="520.23" cy="346.96" r="1.1"/><circle cx="566.65" cy="346.52" r="1.1"/><circle cx="535.12" cy="346.41" r="1.1"/><circle cx="534.92" cy="348.93" r="1.1"/><circle cx="532.24" cy="349.91" r="1.1"/><circle cx="570.96" cy="346.31" r="1.1"/><circle cx="515.86" cy="348.61" r="1.1"/><circle cx="566.91" cy="350.37" r="1.1"/><circle cx="520.26" cy="352.14" r="1.1"/><circle cx="518.92" cy="351.11" r="1.1"/><circle cx="526.32" cy="351.94" r="1.1"/><circle cx="590.92" cy="346.68" r="1.1"/><circle cx="514.16" cy="347.32" r="1.1"/><circle cx="509.62" cy="348.91" r="1.1"/><circle cx="583.69" cy="348.53" r="1.1"/><circle cx="574.47" cy="351.38" r="1.1"/><circle cx="606.17" cy="351" r="1.1"/><circle cx="544.53" cy="350.69" r="1.1"/><circle cx="596.34" cy="346.59" r="1.1"/><circle cx="586.89" cy="351.87" r="1.1"/><circle cx="512.65" cy="350.08" r="1.1"/><circle cx="593.92" cy="346.52" r="1.1"/><circle cx="580.25" cy="349.6" r="1.1"/><circle cx="597.68" cy="347.6" r="1.1"/><circle cx="519.81" cy="350.1" r="1.1"/><circle cx="539.03" cy="350.2" r="1.1"/><circle cx="523.43" cy="351.4" r="1.1"/><circle cx="581.78" cy="350.97" r="1.1"/><circle cx="509.48" cy="349.86" r="1.1"/><circle cx="601.42" cy="348.36" r="1.1"/><circle cx="595.56" cy="350.15" r="1.1"/><circle cx="558.91" cy="346.81" r="1.1"/><circle cx="550.1" cy="351.39" r="1.1"/><circle cx="516.12" cy="351.7" r="1.1"/><circle cx="571.05" cy="349.2" r="1.1"/><circle cx="558.05" cy="349.49" r="1.1"/><circle cx="545.84" cy="345.84" r="1.1"/><circle cx="543.71" cy="345.93" r="1.1"/><circle cx="613.54" cy="350.65" r="1.1"/><circle cx="537.18" cy="347.55" r="1.1"/><circle cx="536.04" cy="349.44" r="1.1"/><circle cx="610.39" cy="350.13" r="1.1"/><circle cx="590.49" cy="351.38" r="1.1"/><circle cx="575.74" cy="349.86" r="1.1"/><circle cx="538.13" cy="350.89" r="1.1"/><circle cx="608.43" cy="351.09" r="1.1"/><circle cx="587.13" cy="349.06" r="1.1"/><circle cx="545.5" cy="349.32" r="1.1"/><circle cx="514.47" cy="352.15" r="1.1"/><circle cx="559.52" cy="348.6" r="1.1"/><circle cx="545.37" cy="351.59" r="1.1"/><circle cx="556.48" cy="348.65" r="1.1"/><circle cx="540.36" cy="348.92" r="1.1"/><circle cx="541.01" cy="350.45" r="1.1"/><circle cx="608.3" cy="347.98" r="1.1"/><circle cx="570.42" cy="350.23" r="1.1"/><circle cx="613.66" cy="348.08" r="1.1"/><circle cx="553.82" cy="349.78" r="1.1"/><circle cx="604.2" cy="347.61" r="1.1"/><circle cx="525.61" cy="347.52" r="1.1"/><circle cx="531.36" cy="350.33" r="1.1"/><circle cx="600.46" cy="350.95" r="1.1"/><circle cx="611.06" cy="351.3" r="1.1"/><circle cx="601.68" cy="348.38" r="1.1"/><circle cx="565.45" cy="351.4" r="1.1"/><circle cx="606.75" cy="351.02" r="1.1"/><circle cx="577.44" cy="348.39" r="1.1"/><circle cx="544.14" cy="346.17" r="1.1"/><circle cx="512.86" cy="349.82" r="1.1"/><circle cx="571.97" cy="347.44" r="1.1"/><circle cx="509.46" cy="351.72" r="1.1"/><circle cx="613.67" cy="346.16" r="1.1"/><circle cx="585.48" cy="348.23" r="1.1"/><circle cx="523.26" cy="351.33" r="1.1"/><circle cx="553.29" cy="349.25" r="1.1"/><circle cx="567.38" cy="350.01" r="1.1"/><circle cx="543.4" cy="350.84" r="1.1"/><circle cx="589.67" cy="351.13" r="1.1"/><circle cx="612.58" cy="349.96" r="1.1"/><circle cx="608.68" cy="349.74" r="1.1"/><circle cx="578.12" cy="350.75" r="1.1"/><circle cx="613.88" cy="347.26" r="1.1"/><circle cx="517.62" cy="347.78" r="1.1"/><circle cx="561.7" cy="351.92" r="1.1"/><circle cx="547.12" cy="350.97" r="1.1"/><circle cx="606.6" cy="351.16" r="1.1"/><circle cx="533.96" cy="352.09" r="1.1"/><circle cx="576.07" cy="348" r="1.1"/><circle cx="557.23" cy="347.87" r="1.1"/><circle cx="519.54" cy="350.53" r="1.1"/><circle cx="551" cy="350.15" r="1.1"/><circle cx="551.86" cy="351.68" r="1.1"/><circle cx="575.1" cy="348.73" r="1.1"/><circle cx="554.42" cy="351.07" r="1.1"/><circle cx="576.77" cy="347.71" r="1.1"/><circle cx="531.18" cy="351.56" r="1.1"/><circle cx="601.01" cy="347.51" r="1.1"/><circle cx="596.04" cy="349.78" r="1.1"/><circle cx="603.33" cy="346.83" r="1.1"/><circle cx="571.94" cy="348.7" r="1.1"/><circle cx="602.47" cy="347.14" r="1.1"/><circle cx="546.56" cy="350.79" r="1.1"/><circle cx="527.51" cy="351.33" r="1.1"/><circle cx="539.84" cy="352.08" r="1.1"/><circle cx="509.01" cy="350.96" r="1.1"/><circle cx="518.44" cy="346.88" r="1.1"/><circle cx="517.65" cy="347.97" r="1.1"/><circle cx="584.65" cy="351.44" r="1.1"/><circle cx="511.52" cy="347.3" r="1.1"/><circle cx="581.77" cy="346.04" r="1.1"/><circle cx="532.78" cy="347.59" r="1.1"/><circle cx="614.01" cy="347.83" r="1.1"/><circle cx="520.89" cy="349.51" r="1.1"/><circle cx="527.15" cy="350.97" r="1.1"/><circle cx="561.58" cy="346.52" r="1.1"/><circle cx="561.1" cy="348.51" r="1.1"/><circle cx="611.52" cy="351.45" r="1.1"/><circle cx="537.21" cy="347.82" r="1.1"/><circle cx="512.62" cy="349.06" r="1.1"/><circle cx="567.56" cy="350.73" r="1.1"/><circle cx="577.88" cy="349.28" r="1.1"/><circle cx="581.86" cy="352.09" r="1.1"/><circle cx="584.8" cy="349.47" r="1.1"/><circle cx="612.1" cy="348.28" r="1.1"/><circle cx="551.87" cy="346.72" r="1.1"/><circle cx="508.56" cy="349.69" r="1.1"/><circle cx="535.25" cy="349.71" r="1.1"/><circle cx="533.76" cy="351.46" r="1.1"/><circle cx="591.88" cy="350.76" r="1.1"/><circle cx="542.71" cy="349.94" r="1.1"/><circle cx="541.77" cy="351.01" r="1.1"/><circle cx="599.32" cy="349.06" r="1.1"/><circle cx="614.44" cy="347.3" r="1.1"/><circle cx="587.53" cy="348.22" r="1.1"/><circle cx="550.11" cy="349.17" r="1.1"/><circle cx="580.46" cy="347.86" r="1.1"/><circle cx="566.11" cy="347.23" r="1.1"/><circle cx="536.35" cy="351.62" r="1.1"/><circle cx="585.21" cy="349.14" r="1.1"/><circle cx="531.67" cy="346.71" r="1.1"/><circle cx="564.58" cy="349.15" r="1.1"/><circle cx="595.03" cy="351.36" r="1.1"/><circle cx="557.25" cy="349.9" r="1.1"/><circle cx="603.66" cy="349.29" r="1.1"/><circle cx="597.04" cy="348.22" r="1.1"/><circle cx="534.91" cy="346.46" r="1.1"/><circle cx="593.94" cy="349.14" r="1.1"/><circle cx="517.42" cy="348.33" r="1.1"/><circle cx="582.37" cy="348.68" r="1.1"/><circle cx="593.42" cy="350.7" r="1.1"/><circle cx="547.26" cy="349.24" r="1.1"/><circle cx="544.39" cy="348.44" r="1.1"/><circle cx="569.05" cy="350.88" r="1.1"/><circle cx="537.38" cy="351.42" r="1.1"/><circle cx="517.77" cy="349.87" r="1.1"/><circle cx="529.58" cy="348.51" r="1.1"/><circle cx="574.11" cy="349.58" r="1.1"/><circle cx="547.29" cy="349.42" r="1.1"/><circle cx="577.36" cy="350.99" r="1.1"/><circle cx="549.23" cy="349.5" r="1.1"/><circle cx="528.5" cy="352.02" r="1.1"/><circle cx="547.84" cy="347.83" r="1.1"/><circle cx="588.9" cy="348.23" r="1.1"/><circle cx="561.14" cy="351.57" r="1.1"/><circle cx="510.74" cy="349.59" r="1.1"/><circle cx="557.45" cy="351.17" r="1.1"/><circle cx="558.68" cy="351.5" r="1.1"/><circle cx="560.57" cy="349.08" r="1.1"/><circle cx="579.73" cy="350.54" r="1.1"/><circle cx="512.34" cy="350.15" r="1.1"/><circle cx="590.31" cy="348.54" r="1.1"/><circle cx="516.25" cy="347.91" r="1.1"/><circle cx="588.6" cy="350.7" r="1.1"/><circle cx="584.08" cy="350.75" r="1.1"/><circle cx="552.72" cy="349.54" r="1.1"/><circle cx="595.4" cy="349.07" r="1.1"/><circle cx="563.45" cy="345.84" r="1.1"/><circle cx="537.39" cy="348.7" r="1.1"/><circle cx="599.9" cy="349.36" r="1.1"/><circle cx="552.96" cy="351.57" r="1.1"/><circle cx="593.81" cy="348.45" r="1.1"/><circle cx="513.58" cy="349.24" r="1.1"/><circle cx="557.67" cy="348.93" r="1.1"/><circle cx="547.13" cy="351.82" r="1.1"/><circle cx="567.51" cy="350.01" r="1.1"/><circle cx="551.76" cy="348.79" r="1.1"/><circle cx="593.18" cy="347.67" r="1.1"/><circle cx="593.86" cy="349.59" r="1.1"/><circle cx="608.03" cy="348.65" r="1.1"/><circle cx="514.18" cy="348.58" r="1.1"/><circle cx="513.24" cy="350.3" r="1.1"/><circle cx="527.28" cy="351.7" r="1.1"/><circle cx="593.67" cy="348.99" r="1.1"/><circle cx="580.22" cy="351.44" r="1.1"/><circle cx="523.6" cy="347.97" r="1.1"/><circle cx="518.19" cy="350.82" r="1.1"/><circle cx="552.37" cy="351.76" r="1.1"/><circle cx="581.39" cy="350.77" r="1.1"/><circle cx="512.47" cy="348.59" r="1.1"/><circle cx="570.28" cy="347.84" r="1.1"/><circle cx="524.48" cy="351.45" r="1.1"/><circle cx="524.25" cy="350.92" r="1.1"/><circle cx="549.89" cy="346.01" r="1.1"/><circle cx="576.56" cy="347.23" r="1.1"/><circle cx="518.01" cy="348.77" r="1.1"/><circle cx="553.99" cy="351.39" r="1.1"/><circle cx="521.07" cy="351.71" r="1.1"/><circle cx="608.52" cy="349.14" r="1.1"/><circle cx="588.29" cy="348.98" r="1.1"/><circle cx="517.95" cy="348.9" r="1.1"/><circle cx="571.96" cy="348.16" r="1.1"/><circle cx="537.02" cy="351.52" r="1.1"/><circle cx="532.31" cy="350.31" r="1.1"/><circle cx="611.51" cy="348" r="1.1"/><circle cx="578.25" cy="349.61" r="1.1"/><circle cx="534.47" cy="351.2" r="1.1"/><circle cx="539.91" cy="346.24" r="1.1"/><circle cx="518.24" cy="349.33" r="1.1"/><circle cx="571.73" cy="349.91" r="1.1"/><circle cx="518.4" cy="350.22" r="1.1"/><circle cx="545.76" cy="348.2" r="1.1"/><circle cx="525.54" cy="346.89" r="1.1"/><circle cx="543.48" cy="351.19" r="1.1"/><circle cx="559.39" cy="351.63" r="1.1"/><circle cx="520.53" cy="348.98" r="1.1"/><circle cx="520.58" cy="350.02" r="1.1"/><circle cx="562.23" cy="349.4" r="1.1"/><circle cx="529.77" cy="351.6" r="1.1"/><circle cx="561.69" cy="351.93" r="1.1"/><circle cx="560.26" cy="350.86" r="1.1"/><circle cx="581.72" cy="347.27" r="1.1"/><circle cx="524.44" cy="349.35" r="1.1"/><circle cx="563.44" cy="347.67" r="1.1"/><circle cx="517.02" cy="350.3" r="1.1"/><circle cx="591.89" cy="348.66" r="1.1"/><circle cx="572.11" cy="350.41" r="1.1"/><circle cx="582.03" cy="351.31" r="1.1"/><circle cx="557.41" cy="351.92" r="1.1"/><circle cx="552.08" cy="348.65" r="1.1"/><circle cx="586.51" cy="349.12" r="1.1"/><circle cx="523.02" cy="349.06" r="1.1"/><circle cx="612.43" cy="352.18" r="1.1"/><circle cx="559.33" cy="348.98" r="1.1"/><circle cx="605.17" cy="350.61" r="1.1"/><circle cx="529.3" cy="349.8" r="1.1"/><circle cx="592.17" cy="346.39" r="1.1"/><circle cx="545.36" cy="346.84" r="1.1"/><circle cx="579.98" cy="351.39" r="1.1"/><circle cx="608.27" cy="351.59" r="1.1"/><circle cx="597.07" cy="350.93" r="1.1"/><circle cx="554.58" cy="351.08" r="1.1"/><circle cx="601.18" cy="347.71" r="1.1"/><circle cx="564.89" cy="352.05" r="1.1"/><circle cx="592.26" cy="347.41" r="1.1"/><circle cx="532.83" cy="347.07" r="1.1"/><circle cx="533.32" cy="348.95" r="1.1"/><circle cx="581.33" cy="350.35" r="1.1"/><circle cx="591.87" cy="350.88" r="1.1"/><circle cx="608.76" cy="351.08" r="1.1"/><circle cx="517.32" cy="349.98" r="1.1"/><circle cx="544.34" cy="349.61" r="1.1"/><circle cx="592.85" cy="345.83" r="1.1"/><circle cx="509.75" cy="346.51" r="1.1"/><circle cx="552.8" cy="349.67" r="1.1"/><circle cx="543.89" cy="347.17" r="1.1"/><circle cx="598.37" cy="347.91" r="1.1"/><circle cx="537" cy="350.29" r="1.1"/><circle cx="578.73" cy="350.71" r="1.1"/><circle cx="512.44" cy="348.78" r="1.1"/><circle cx="610.47" cy="351.68" r="1.1"/><circle cx="573.3" cy="351.52" r="1.1"/><circle cx="561.47" cy="351.92" r="1.1"/><circle cx="613.77" cy="347.01" r="1.1"/><circle cx="525.36" cy="348.32" r="1.1"/><circle cx="609.12" cy="348.71" r="1.1"/><circle cx="534.84" cy="350.1" r="1.1"/><circle cx="600.26" cy="349.09" r="1.1"/><circle cx="607.36" cy="351.52" r="1.1"/><circle cx="516.12" cy="349.79" r="1.1"/><circle cx="610.49" cy="348.12" r="1.1"/><circle cx="575.62" cy="348.21" r="1.1"/><circle cx="580.39" cy="351.61" r="1.1"/><circle cx="546.92" cy="351.42" r="1.1"/><circle cx="581.14" cy="349.37" r="1.1"/><circle cx="588.36" cy="351.5" r="1.1"/><circle cx="588.23" cy="348.14" r="1.1"/><circle cx="609.97" cy="350.26" r="1.1"/><circle cx="569.71" cy="346.1" r="1.1"/><circle cx="587.97" cy="351.08" r="1.1"/><circle cx="539.16" cy="349.28" r="1.1"/><circle cx="612.71" cy="345.73" r="1.1"/><circle cx="578.12" cy="345.49" r="1.1"/><circle cx="549.95" cy="344.59" r="1.1"/><circle cx="611.12" cy="345.62" r="1.1"/><circle cx="539.14" cy="344.52" r="1.1"/><circle cx="527" cy="344.33" r="1.1"/><circle cx="593.33" cy="345.15" r="1.1"/><circle cx="546.46" cy="345.23" r="1.1"/><circle cx="602.13" cy="345.07" r="1.1"/><circle cx="527.03" cy="345.96" r="1.1"/><circle cx="542.76" cy="345.39" r="1.1"/><circle cx="515.62" cy="345.71" r="1.1"/><circle cx="611.53" cy="345.06" r="1.1"/><circle cx="611.02" cy="345.67" r="1.1"/><circle cx="609.09" cy="345.21" r="1.1"/><circle cx="530.72" cy="345.54" r="1.1"/><circle cx="521.38" cy="345.03" r="1.1"/><circle cx="537.32" cy="345.22" r="1.1"/><circle cx="611.18" cy="345.39" r="1.1"/><circle cx="538.02" cy="345.38" r="1.1"/><circle cx="557.28" cy="343.9" r="1.1"/><circle cx="597.9" cy="344.87" r="1.1"/><circle cx="543.05" cy="344.68" r="1.1"/><circle cx="525.97" cy="345.95" r="1.1"/><circle cx="568.67" cy="344.87" r="1.1"/><circle cx="580.41" cy="345.99" r="1.1"/><circle cx="548.09" cy="345.2" r="1.1"/><circle cx="606.34" cy="345.19" r="1.1"/><circle cx="576.17" cy="345.85" r="1.1"/><circle cx="537.27" cy="345.96" r="1.1"/><circle cx="596.8" cy="345.71" r="1.1"/><circle cx="569.48" cy="344.56" r="1.1"/><circle cx="537.88" cy="344.11" r="1.1"/><circle cx="535.55" cy="344.86" r="1.1"/><circle cx="589.14" cy="345.46" r="1.1"/><circle cx="581.2" cy="344.45" r="1.1"/><circle cx="521.68" cy="345.05" r="1.1"/><circle cx="542.23" cy="344.39" r="1.1"/><circle cx="576.56" cy="343.94" r="1.1"/><circle cx="582.66" cy="345.85" r="1.1"/><circle cx="509.6" cy="329.6" r="1.1"/><circle cx="509.6" cy="341" r="1.1"/><circle cx="527.1" cy="330.9" r="1.1"/><circle cx="527.1" cy="342.3" r="1.1"/><circle cx="536.3" cy="320.8" r="1.1"/><circle cx="546" cy="319.7" r="1.1"/><circle cx="549.9" cy="319.3" r="1.1"/><circle cx="562.2" cy="321.3" r="1.1"/><circle cx="566.8" cy="316.2" r="1.1"/><circle cx="579.5" cy="317.8" r="1.1"/><circle cx="588.9" cy="338.8" r="1.1"/><circle cx="598.5" cy="340.1" r="1.1"/><circle cx="587.2" cy="343.1" r="1.1"/><circle cx="613.8" cy="343.8" r="1.1"/><circle cx="601.5" cy="344.3" r="1.1"/><circle cx="594.6" cy="345.3" r="1.1"/><circle cx="589.2" cy="338.7" r="1.1"/><circle cx="598.4" cy="339.9" r="1.1"/></g>
<polygon points="515.5,310.8 516.19,312.45 517.97,312.6 516.61,313.76 517.03,315.5 515.5,314.57 513.97,315.5 514.39,313.76 513.03,312.6 514.81,312.45" fill="#a77dc9"/>
<rect x="492.6" y="408.3" width="122.6" height="2.4" fill="#f5a31c"/>
<g fill="#f5a31c"><circle cx="438.65" cy="409.65" r="1.1"/><circle cx="425.06" cy="409.44" r="1.1"/><circle cx="435.59" cy="409.41" r="1.1"/><circle cx="421.52" cy="409.72" r="1.1"/><circle cx="429.37" cy="409.51" r="1.1"/><circle cx="432.5" cy="409.74" r="1.1"/><circle cx="420.33" cy="409.4" r="1.1"/><circle cx="418.8" cy="409.45" r="1.1"/><circle cx="428.7" cy="409.71" r="1.1"/><circle cx="432.46" cy="409.55" r="1.1"/><circle cx="426.46" cy="409.54" r="1.1"/><circle cx="423.52" cy="409.71" r="1.1"/><circle cx="435.2" cy="409.7" r="1.1"/><circle cx="420.73" cy="409.6" r="1.1"/><circle cx="434.42" cy="409.5" r="1.1"/><circle cx="437.69" cy="409.74" r="1.1"/><circle cx="434.17" cy="409.69" r="1.1"/><circle cx="432.03" cy="409.73" r="1.1"/><circle cx="420.28" cy="409.62" r="1.1"/><circle cx="433.28" cy="409.57" r="1.1"/><circle cx="423.54" cy="409.24" r="1.1"/><circle cx="431" cy="409.69" r="1.1"/><circle cx="423.5" cy="409.33" r="1.1"/><circle cx="422.38" cy="409.26" r="1.1"/><circle cx="432.65" cy="409.78" r="1.1"/><circle cx="435.51" cy="409.42" r="1.1"/><circle cx="433.18" cy="409.24" r="1.1"/><circle cx="436.34" cy="409.4" r="1.1"/><circle cx="443.5" cy="409.5" r="1.1"/><circle cx="464.51" cy="409.1" r="1.1"/><circle cx="464.81" cy="409.32" r="1.1"/><circle cx="464.8" cy="409.15" r="1.1"/><circle cx="464.4" cy="409.75" r="1.1"/><circle cx="465.21" cy="409.13" r="1.1"/><circle cx="566.8" cy="406.4" r="1.1"/><circle cx="579.5" cy="407.7" r="1.1"/><circle cx="549.9" cy="408.2" r="1.1"/><circle cx="545" cy="408.4" r="1.1"/><circle cx="528" cy="408.6" r="1.1"/><circle cx="493" cy="409.5" r="1.1"/><circle cx="615" cy="409.5" r="1.1"/></g>
<polygon points="515.5,398.4 516.19,400.05 517.97,400.2 516.61,401.36 517.03,403.1 515.5,402.17 513.97,403.1 514.39,401.36 513.03,400.2 514.81,400.05" fill="#a77dc9"/>
<rect x="492.6" y="463.4" width="122.6" height="2.9" fill="#27296c"/>
<g fill="#27296c"><circle cx="436.08" cy="464.37" r="1.1"/><circle cx="422.4" cy="464.68" r="1.1"/><circle cx="425.02" cy="464.5" r="1.1"/><circle cx="430.2" cy="464.43" r="1.1"/><circle cx="435.31" cy="464.43" r="1.1"/><circle cx="436.35" cy="464.79" r="1.1"/><circle cx="429.49" cy="464.32" r="1.1"/><circle cx="434.96" cy="464.32" r="1.1"/><circle cx="428.76" cy="464.55" r="1.1"/><circle cx="418.73" cy="464.68" r="1.1"/><circle cx="433.75" cy="464.65" r="1.1"/><circle cx="426.38" cy="464.61" r="1.1"/><circle cx="430.66" cy="464.44" r="1.1"/><circle cx="437" cy="464.9" r="1.1"/><circle cx="435.55" cy="464.88" r="1.1"/><circle cx="424.78" cy="464.89" r="1.1"/><circle cx="418.92" cy="464.59" r="1.1"/><circle cx="420.34" cy="464.57" r="1.1"/><circle cx="432.8" cy="464.73" r="1.1"/><circle cx="427.62" cy="464.51" r="1.1"/><circle cx="421.61" cy="464.54" r="1.1"/><circle cx="423.71" cy="464.42" r="1.1"/><circle cx="434.01" cy="464.61" r="1.1"/><circle cx="427.26" cy="464.42" r="1.1"/><circle cx="433.27" cy="464.42" r="1.1"/><circle cx="423.33" cy="464.64" r="1.1"/><circle cx="433.22" cy="464.88" r="1.1"/><circle cx="434.27" cy="464.87" r="1.1"/><circle cx="443.5" cy="464.6" r="1.1"/><circle cx="465.84" cy="464.54" r="1.1"/><circle cx="464.54" cy="463.23" r="1.1"/><circle cx="465.03" cy="464.83" r="1.1"/><circle cx="465.09" cy="464.54" r="1.1"/><circle cx="464.68" cy="463.81" r="1.1"/><circle cx="464.66" cy="463.43" r="1.1"/><circle cx="463.75" cy="463.71" r="1.1"/><circle cx="463.63" cy="463.19" r="1.1"/><circle cx="492.81" cy="462.78" r="1.1"/><circle cx="494.58" cy="462.52" r="1.1"/><circle cx="495.77" cy="463.43" r="1.1"/><circle cx="496.99" cy="463.5" r="1.1"/><circle cx="498.77" cy="461.6" r="1.1"/><circle cx="500.25" cy="463.32" r="1.1"/><circle cx="501.58" cy="462.41" r="1.1"/><circle cx="502.58" cy="463.51" r="1.1"/><circle cx="503.97" cy="462.93" r="1.1"/><circle cx="505.43" cy="463.38" r="1.1"/><circle cx="506.85" cy="462.18" r="1.1"/><circle cx="508.53" cy="463.5" r="1.1"/><circle cx="510.07" cy="462.96" r="1.1"/><circle cx="511.34" cy="463.61" r="1.1"/><circle cx="512.53" cy="463.19" r="1.1"/><circle cx="513.78" cy="462.46" r="1.1"/><circle cx="515.11" cy="463.49" r="1.1"/><circle cx="516.73" cy="462.79" r="1.1"/><circle cx="517.91" cy="463.11" r="1.1"/><circle cx="519.58" cy="462.62" r="1.1"/><circle cx="520.73" cy="463.04" r="1.1"/><circle cx="522.14" cy="463.14" r="1.1"/><circle cx="523.69" cy="462.67" r="1.1"/><circle cx="525.19" cy="462.67" r="1.1"/><circle cx="526.68" cy="463.56" r="1.1"/><circle cx="528.24" cy="463.2" r="1.1"/><circle cx="529.33" cy="462.96" r="1.1"/><circle cx="530.58" cy="463.13" r="1.1"/><circle cx="532.02" cy="462.81" r="1.1"/><circle cx="533.68" cy="463.45" r="1.1"/><circle cx="535.12" cy="463.46" r="1.1"/><circle cx="536.53" cy="463.6" r="1.1"/><circle cx="537.53" cy="463" r="1.1"/><circle cx="539.3" cy="463.57" r="1.1"/><circle cx="540.73" cy="463.64" r="1.1"/><circle cx="542.12" cy="462.69" r="1.1"/><circle cx="543.38" cy="462.74" r="1.1"/><circle cx="544.86" cy="462.51" r="1.1"/><circle cx="545.94" cy="463.55" r="1.1"/><circle cx="547.44" cy="461.65" r="1.1"/><circle cx="548.94" cy="463.39" r="1.1"/><circle cx="550.48" cy="462.43" r="1.1"/><circle cx="551.94" cy="463.4" r="1.1"/><circle cx="553.49" cy="463.63" r="1.1"/><circle cx="554.78" cy="463.49" r="1.1"/><circle cx="555.84" cy="463.65" r="1.1"/><circle cx="557.66" cy="463.5" r="1.1"/><circle cx="559.06" cy="462.67" r="1.1"/><circle cx="560.28" cy="463.22" r="1.1"/><circle cx="561.39" cy="463.43" r="1.1"/><circle cx="562.71" cy="463.69" r="1.1"/><circle cx="564.68" cy="463.37" r="1.1"/><circle cx="565.93" cy="463.21" r="1.1"/><circle cx="567" cy="462.53" r="1.1"/><circle cx="568.61" cy="462.73" r="1.1"/><circle cx="570.23" cy="462.94" r="1.1"/><circle cx="571.65" cy="462.33" r="1.1"/><circle cx="572.83" cy="463.68" r="1.1"/><circle cx="574.39" cy="462.73" r="1.1"/><circle cx="575.66" cy="463.68" r="1.1"/><circle cx="577.18" cy="463.49" r="1.1"/><circle cx="578.43" cy="463.59" r="1.1"/><circle cx="579.67" cy="463.63" r="1.1"/><circle cx="581.35" cy="463.65" r="1.1"/><circle cx="582.31" cy="463.09" r="1.1"/><circle cx="583.97" cy="462.58" r="1.1"/><circle cx="585.17" cy="463.42" r="1.1"/><circle cx="586.76" cy="463.31" r="1.1"/><circle cx="587.97" cy="462.83" r="1.1"/><circle cx="589.51" cy="463.57" r="1.1"/><circle cx="590.76" cy="463.53" r="1.1"/><circle cx="592.61" cy="462.35" r="1.1"/><circle cx="593.56" cy="463.3" r="1.1"/><circle cx="595.36" cy="463.26" r="1.1"/><circle cx="596.39" cy="462.18" r="1.1"/><circle cx="598.16" cy="462.5" r="1.1"/><circle cx="599.1" cy="463.39" r="1.1"/><circle cx="600.92" cy="463.54" r="1.1"/><circle cx="602.26" cy="462.93" r="1.1"/><circle cx="603.54" cy="463.6" r="1.1"/><circle cx="605.07" cy="462.77" r="1.1"/><circle cx="606.54" cy="462.45" r="1.1"/><circle cx="607.98" cy="462.56" r="1.1"/><circle cx="609.33" cy="463.01" r="1.1"/><circle cx="610.32" cy="463.13" r="1.1"/><circle cx="611.96" cy="462.46" r="1.1"/><circle cx="613.63" cy="462.99" r="1.1"/><circle cx="614.77" cy="462.19" r="1.1"/><circle cx="509.6" cy="460.6" r="1.1"/><circle cx="535.3" cy="460.2" r="1.1"/><circle cx="541" cy="459.2" r="1.1"/><circle cx="548" cy="461" r="1.1"/><circle cx="493" cy="464.6" r="1.1"/><circle cx="615" cy="464.6" r="1.1"/></g>
<polygon points="515.5,418.3 516.19,419.95 517.97,420.1 516.61,421.26 517.03,423 515.5,422.07 513.97,423 514.39,421.26 513.03,420.1 514.81,419.95" fill="#a77dc9"/>
<text x="433" y="478.4" font-size="7.3" text-anchor="middle" fill="#444" font-style="italic">ANKRD36</text>
<line x1="417" y1="482.1" x2="446" y2="482.1" stroke="#c98f2c" stroke-width="1.0"/>
<path d="M445.2 480.42L448 482.1L445.2 483.78Z" fill="#c98f2c"/>
<text x="534.8" y="484" font-size="7.3" text-anchor="middle" fill="#444" font-style="italic">ACTR1B</text>
<path d="M519.8 484.42L517 486.1L519.8 487.78Z" fill="#c98f2c"/>
<text x="545.5" y="497.2" font-size="7.3" text-anchor="middle" fill="#444" font-style="italic">LINC01125</text>
<line x1="517.7" y1="494.5" x2="522" y2="494.5" stroke="#c98f2c" stroke-width="1.0"/>
<path d="M521.4 492.82L524.2 494.5L521.4 496.18Z" fill="#c98f2c"/>
<text x="506.1" y="497.6" font-size="7.3" text-anchor="end" fill="#444" font-style="italic">ANKRD36B</text>
<line x1="488" y1="502.3" x2="502.8" y2="502.3" stroke="#c98f2c" stroke-width="1.0"/>
<path d="M488.4 500.62L485.6 502.3L488.4 503.98Z" fill="#c98f2c"/>
<text x="517.6" y="513.4" font-size="7.3" text-anchor="middle" fill="#444" font-style="italic">ZAP70</text>
<line x1="525.8" y1="502.3" x2="530" y2="502.3" stroke="#c98f2c" stroke-width="1.0"/>
<path d="M529.2 500.62L532 502.3L529.2 503.98Z" fill="#c98f2c"/>
<text x="558.7" y="516.2" font-size="7.3" text-anchor="middle" fill="#444" font-style="italic">TMEM131</text>
<line x1="538" y1="518.8" x2="582.3" y2="518.8" stroke="#d9aa62" stroke-width="1.1"/>
<path d="M538.4 517.12L535.6 518.8L538.4 520.48Z" fill="#c98f2c"/>
<line x1="418.1" y1="524.9" x2="615.2" y2="524.9" stroke="#c4c4c4" stroke-width="1.2"/>
<line x1="418.1" y1="524.9" x2="418.1" y2="528.6" stroke="#777" stroke-width="0.8"/>
<text x="418.1" y="539.4" font-size="7.9" text-anchor="middle" fill="#444">97.78</text>
<line x1="457.52" y1="524.9" x2="457.52" y2="528.6" stroke="#777" stroke-width="0.8"/>
<text x="457.52" y="539.4" font-size="7.9" text-anchor="middle" fill="#444">97.98</text>
<line x1="496.94" y1="524.9" x2="496.94" y2="528.6" stroke="#777" stroke-width="0.8"/>
<text x="496.94" y="539.4" font-size="7.9" text-anchor="middle" fill="#444">98.18</text>
<line x1="536.36" y1="524.9" x2="536.36" y2="528.6" stroke="#777" stroke-width="0.8"/>
<text x="536.36" y="539.4" font-size="7.9" text-anchor="middle" fill="#444">98.38</text>
<line x1="575.78" y1="524.9" x2="575.78" y2="528.6" stroke="#777" stroke-width="0.8"/>
<text x="575.78" y="539.4" font-size="7.9" text-anchor="middle" fill="#444">98.58</text>
<line x1="615.2" y1="524.9" x2="615.2" y2="528.6" stroke="#777" stroke-width="0.8"/>
<text x="615.2" y="539.4" font-size="7.9" text-anchor="middle" fill="#444">98.78</text>
<text x="516.8" y="551.8" font-size="8.9" text-anchor="middle" fill="#3a3a3a">Chr. 2 (Mb)</text>
<text x="12.4" y="571.9" font-size="13" text-anchor="start" fill="#111" font-weight="bold">c</text>
<line x1="46.5" y1="581" x2="46.5" y2="702.8" stroke="#8a8a8a" stroke-width="0.9"/>
<line x1="46.5" y1="702.6" x2="356" y2="702.6" stroke="#bdbdbd" stroke-width="1.2"/>
<line x1="42.8" y1="697.2" x2="46.5" y2="697.2" stroke="#666" stroke-width="0.8"/>
<text x="39" y="699.9" font-size="7.6" text-anchor="end" fill="#444">0</text>
<line x1="42.8" y1="665.6" x2="46.5" y2="665.6" stroke="#666" stroke-width="0.8"/>
<text x="39" y="668.3" font-size="7.6" text-anchor="end" fill="#444">2.5</text>
<line x1="42.8" y1="634" x2="46.5" y2="634" stroke="#666" stroke-width="0.8"/>
<text x="39" y="636.7" font-size="7.6" text-anchor="end" fill="#444">5.0</text>
<line x1="42.8" y1="602.4" x2="46.5" y2="602.4" stroke="#666" stroke-width="0.8"/>
<text x="39" y="605.1" font-size="7.6" text-anchor="end" fill="#444">7.5</text>
<text x="0" y="0" font-size="9" text-anchor="middle" fill="#3a3a3a" transform="translate(23.3 642.5) rotate(-90)">Per-SNP heritability enrichment</text>
<line x1="59.3" y1="586.5" x2="59.3" y2="589.9" stroke="#f6aaa6" stroke-width="0.9"/>
<line x1="56" y1="586.5" x2="62.6" y2="586.5" stroke="#f6aaa6" stroke-width="0.9"/>
<rect x="52.75" y="589.9" width="13.1" height="107.3" fill="#f07571"/>
<line x1="59.3" y1="702.8" x2="59.3" y2="706.3" stroke="#777" stroke-width="0.8"/>
<rect x="51.5" y="711.7" width="13.4" height="11.8" fill="#17b8be" stroke="#3e6d70" stroke-width="0.6" rx="0.4"/>
<rect x="51.5" y="735.4" width="13.4" height="11.8" fill="#fff" stroke="#9d9d9d" stroke-width="0.8" rx="0.4"/>
<rect x="51.5" y="761.6" width="13.4" height="11.8" fill="#17b8be" stroke="#3e6d70" stroke-width="0.6" rx="0.4"/>
<text x="0" y="0" font-size="8.7" text-anchor="end" fill="#444" transform="translate(61.2 780.8) rotate(-45)">Conserved_Primate</text>
<line x1="81.05" y1="587.6" x2="81.05" y2="591.8" stroke="#eeb87a" stroke-width="0.9"/>
<line x1="77.75" y1="587.6" x2="84.35" y2="587.6" stroke="#eeb87a" stroke-width="0.9"/>
<rect x="74.5" y="591.8" width="13.1" height="105.4" fill="#e08a26"/>
<line x1="81.05" y1="702.8" x2="81.05" y2="706.3" stroke="#777" stroke-width="0.8"/>
<rect x="73.25" y="711.7" width="13.4" height="11.8" fill="#17b8be" stroke="#3e6d70" stroke-width="0.6" rx="0.4"/>
<rect x="73.25" y="735.4" width="13.4" height="11.8" fill="#fff" stroke="#9d9d9d" stroke-width="0.8" rx="0.4"/>
<rect x="73.25" y="761.6" width="13.4" height="11.8" fill="#fff" stroke="#9d9d9d" stroke-width="0.8" rx="0.4"/>
<text x="0" y="0" font-size="8.7" text-anchor="end" fill="#444" transform="translate(82.95 780.8) rotate(-45)">Conserved_Mammal</text>
<line x1="102.8" y1="610.4" x2="102.8" y2="614" stroke="#dcc286" stroke-width="0.9"/>
<line x1="99.5" y1="610.4" x2="106.1" y2="610.4" stroke="#dcc286" stroke-width="0.9"/>
<rect x="96.25" y="614" width="13.1" height="83.2" fill="#c19a30"/>
<line x1="102.8" y1="702.8" x2="102.8" y2="706.3" stroke="#777" stroke-width="0.8"/>
<rect x="95" y="711.7" width="13.4" height="11.8" fill="#17b8be" stroke="#3e6d70" stroke-width="0.6" rx="0.4"/>
<rect x="95" y="735.4" width="13.4" height="11.8" fill="#fff" stroke="#9d9d9d" stroke-width="0.8" rx="0.4"/>
<rect x="95" y="761.6" width="13.4" height="11.8" fill="#fff" stroke="#9d9d9d" stroke-width="0.8" rx="0.4"/>
<text x="0" y="0" font-size="8.7" text-anchor="end" fill="#444" transform="translate(104.7 780.8) rotate(-45)">Conserved_Vertebrate</text>
<line x1="124.55" y1="665.2" x2="124.55" y2="666.4" stroke="#c8d29a" stroke-width="0.9"/>
<line x1="121.25" y1="665.2" x2="127.85" y2="665.2" stroke="#c8d29a" stroke-width="0.9"/>
<rect x="118" y="666.4" width="13.1" height="30.8" fill="#98a83b"/>
<line x1="124.55" y1="702.8" x2="124.55" y2="706.3" stroke="#777" stroke-width="0.8"/>
<rect x="116.75" y="711.7" width="13.4" height="11.8" fill="#17b8be" stroke="#3e6d70" stroke-width="0.6" rx="0.4"/>
<rect x="116.75" y="735.4" width="13.4" height="11.8" fill="#17b8be" stroke="#3e6d70" stroke-width="0.6" rx="0.4"/>
<rect x="116.75" y="761.6" width="13.4" height="11.8" fill="#fff" stroke="#9d9d9d" stroke-width="0.8" rx="0.4"/>
<text x="0" y="0" font-size="8.7" text-anchor="end" fill="#444" transform="translate(126.45 780.8) rotate(-45)">Enhancer</text>
<line x1="146.3" y1="669.8" x2="146.3" y2="670.7" stroke="#a9d8a3" stroke-width="0.9"/>
<line x1="143" y1="669.8" x2="149.6" y2="669.8" stroke="#a9d8a3" stroke-width="0.9"/>
<rect x="139.75" y="670.7" width="13.1" height="26.5" fill="#56b04b"/>
<line x1="146.3" y1="702.8" x2="146.3" y2="706.3" stroke="#777" stroke-width="0.8"/>
<rect x="138.5" y="711.7" width="13.4" height="11.8" fill="#17b8be" stroke="#3e6d70" stroke-width="0.6" rx="0.4"/>
<rect x="138.5" y="735.4" width="13.4" height="11.8" fill="#17b8be" stroke="#3e6d70" stroke-width="0.6" rx="0.4"/>
<rect x="138.5" y="761.6" width="13.4" height="11.8" fill="#fff" stroke="#9d9d9d" stroke-width="0.8" rx="0.4"/>
<text x="0" y="0" font-size="8.7" text-anchor="end" fill="#444" transform="translate(148.2 780.8) rotate(-45)">H3K9ac</text>
<line x1="168.05" y1="672" x2="168.05" y2="672.8" stroke="#92d8a6" stroke-width="0.9"/>
<line x1="164.75" y1="672" x2="171.35" y2="672" stroke="#92d8a6" stroke-width="0.9"/>
<rect x="161.5" y="672.8" width="13.1" height="24.4" fill="#29b153"/>
<line x1="168.05" y1="702.8" x2="168.05" y2="706.3" stroke="#777" stroke-width="0.8"/>
<rect x="160.25" y="711.7" width="13.4" height="11.8" fill="#17b8be" stroke="#3e6d70" stroke-width="0.6" rx="0.4"/>
<rect x="160.25" y="735.4" width="13.4" height="11.8" fill="#17b8be" stroke="#3e6d70" stroke-width="0.6" rx="0.4"/>
<rect x="160.25" y="761.6" width="13.4" height="11.8" fill="#fff" stroke="#9d9d9d" stroke-width="0.8" rx="0.4"/>
<text x="0" y="0" font-size="8.7" text-anchor="end" fill="#444" transform="translate(169.95 780.8) rotate(-45)">DHS</text>
<line x1="189.8" y1="672" x2="189.8" y2="672.8" stroke="#94dac4" stroke-width="0.9"/>
<line x1="186.5" y1="672" x2="193.1" y2="672" stroke="#94dac4" stroke-width="0.9"/>
<rect x="183.25" y="672.8" width="13.1" height="24.4" fill="#2ab58c"/>
<line x1="189.8" y1="702.8" x2="189.8" y2="706.3" stroke="#777" stroke-width="0.8"/>
<rect x="182" y="711.7" width="13.4" height="11.8" fill="#fff" stroke="#9d9d9d" stroke-width="0.8" rx="0.4"/>
<rect x="182" y="735.4" width="13.4" height="11.8" fill="#17b8be" stroke="#3e6d70" stroke-width="0.6" rx="0.4"/>
<rect x="182" y="761.6" width="13.4" height="11.8" fill="#fff" stroke="#9d9d9d" stroke-width="0.8" rx="0.4"/>
<text x="0" y="0" font-size="8.7" text-anchor="end" fill="#444" transform="translate(191.7 780.8) rotate(-45)">H3K4me3</text>
<line x1="211.55" y1="673.4" x2="211.55" y2="674.2" stroke="#8cdbe0" stroke-width="0.9"/>
<line x1="208.25" y1="673.4" x2="214.85" y2="673.4" stroke="#8cdbe0" stroke-width="0.9"/>
<rect x="205" y="674.2" width="13.1" height="23" fill="#19b8c2"/>
<line x1="211.55" y1="702.8" x2="211.55" y2="706.3" stroke="#777" stroke-width="0.8"/>
<rect x="203.75" y="711.7" width="13.4" height="11.8" fill="#17b8be" stroke="#3e6d70" stroke-width="0.6" rx="0.4"/>
<rect x="203.75" y="735.4" width="13.4" height="11.8" fill="#17b8be" stroke="#3e6d70" stroke-width="0.6" rx="0.4"/>
<rect x="203.75" y="761.6" width="13.4" height="11.8" fill="#fff" stroke="#9d9d9d" stroke-width="0.8" rx="0.4"/>
<text x="0" y="0" font-size="8.7" text-anchor="end" fill="#444" transform="translate(213.45 780.8) rotate(-45)">TFBS</text>
<line x1="233.3" y1="673.2" x2="233.3" y2="674.3" stroke="#8cd8f2" stroke-width="0.9"/>
<line x1="230" y1="673.2" x2="236.6" y2="673.2" stroke="#8cd8f2" stroke-width="0.9"/>
<rect x="226.75" y="674.3" width="13.1" height="22.9" fill="#18b1e6"/>
<line x1="233.3" y1="702.8" x2="233.3" y2="706.3" stroke="#777" stroke-width="0.8"/>
<rect x="225.5" y="711.7" width="13.4" height="11.8" fill="#fff" stroke="#9d9d9d" stroke-width="0.8" rx="0.4"/>
<rect x="225.5" y="735.4" width="13.4" height="11.8" fill="#17b8be" stroke="#3e6d70" stroke-width="0.6" rx="0.4"/>
<rect x="225.5" y="761.6" width="13.4" height="11.8" fill="#fff" stroke="#9d9d9d" stroke-width="0.8" rx="0.4"/>
<text x="0" y="0" font-size="8.7" text-anchor="end" fill="#444" transform="translate(235.2 780.8) rotate(-45)">DGF_ENCODE</text>
<line x1="255.05" y1="677.6" x2="255.05" y2="678.4" stroke="#a4cdeb" stroke-width="0.9"/>
<line x1="251.75" y1="677.6" x2="258.35" y2="677.6" stroke="#a4cdeb" stroke-width="0.9"/>
<rect x="248.5" y="678.4" width="13.1" height="18.8" fill="#4a9bd6"/>
<line x1="255.05" y1="702.8" x2="255.05" y2="706.3" stroke="#777" stroke-width="0.8"/>
<rect x="247.25" y="711.7" width="13.4" height="11.8" fill="#17b8be" stroke="#3e6d70" stroke-width="0.6" rx="0.4"/>
<rect x="247.25" y="735.4" width="13.4" height="11.8" fill="#17b8be" stroke="#3e6d70" stroke-width="0.6" rx="0.4"/>
<rect x="247.25" y="761.6" width="13.4" height="11.8" fill="#fff" stroke="#9d9d9d" stroke-width="0.8" rx="0.4"/>
<text x="0" y="0" font-size="8.7" text-anchor="end" fill="#444" transform="translate(256.95 780.8) rotate(-45)">H3K27ac</text>
<line x1="276.8" y1="677.6" x2="276.8" y2="678.4" stroke="#c9c3e2" stroke-width="0.9"/>
<line x1="273.5" y1="677.6" x2="280.1" y2="677.6" stroke="#c9c3e2" stroke-width="0.9"/>
<rect x="270.25" y="678.4" width="13.1" height="18.8" fill="#9488c4"/>
<line x1="276.8" y1="702.8" x2="276.8" y2="706.3" stroke="#777" stroke-width="0.8"/>
<rect x="269" y="711.7" width="13.4" height="11.8" fill="#17b8be" stroke="#3e6d70" stroke-width="0.6" rx="0.4"/>
<rect x="269" y="735.4" width="13.4" height="11.8" fill="#17b8be" stroke="#3e6d70" stroke-width="0.6" rx="0.4"/>
<rect x="269" y="761.6" width="13.4" height="11.8" fill="#fff" stroke="#9d9d9d" stroke-width="0.8" rx="0.4"/>
<text x="0" y="0" font-size="8.7" text-anchor="end" fill="#444" transform="translate(278.7 780.8) rotate(-45)">SuperEnhancer</text>
<line x1="298.55" y1="678.2" x2="298.55" y2="678.9" stroke="#dab9dc" stroke-width="0.9"/>
<line x1="295.25" y1="678.2" x2="301.85" y2="678.2" stroke="#dab9dc" stroke-width="0.9"/>
<rect x="292" y="678.9" width="13.1" height="18.3" fill="#b57bb9"/>
<line x1="298.55" y1="702.8" x2="298.55" y2="706.3" stroke="#777" stroke-width="0.8"/>
<rect x="290.75" y="711.7" width="13.4" height="11.8" fill="#17b8be" stroke="#3e6d70" stroke-width="0.6" rx="0.4"/>
<rect x="290.75" y="735.4" width="13.4" height="11.8" fill="#17b8be" stroke="#3e6d70" stroke-width="0.6" rx="0.4"/>
<rect x="290.75" y="761.6" width="13.4" height="11.8" fill="#17b8be" stroke="#3e6d70" stroke-width="0.6" rx="0.4"/>
<text x="0" y="0" font-size="8.7" text-anchor="end" fill="#444" transform="translate(300.45 780.8) rotate(-45)">H3K4me1</text>
<line x1="320.3" y1="682.6" x2="320.3" y2="683.2" stroke="#eab4d5" stroke-width="0.9"/>
<line x1="317" y1="682.6" x2="323.6" y2="682.6" stroke="#eab4d5" stroke-width="0.9"/>
<rect x="313.75" y="683.2" width="13.1" height="14" fill="#d56aab"/>
<line x1="320.3" y1="702.8" x2="320.3" y2="706.3" stroke="#777" stroke-width="0.8"/>
<rect x="312.5" y="711.7" width="13.4" height="11.8" fill="#17b8be" stroke="#3e6d70" stroke-width="0.6" rx="0.4"/>
<rect x="312.5" y="735.4" width="13.4" height="11.8" fill="#17b8be" stroke="#3e6d70" stroke-width="0.6" rx="0.4"/>
<rect x="312.5" y="761.6" width="13.4" height="11.8" fill="#17b8be" stroke="#3e6d70" stroke-width="0.6" rx="0.4"/>
<text x="0" y="0" font-size="8.7" text-anchor="end" fill="#444" transform="translate(322.2 780.8) rotate(-45)">Intron</text>
<line x1="342.05" y1="683" x2="342.05" y2="683.5" stroke="#f7b0d0" stroke-width="0.9"/>
<line x1="338.75" y1="683" x2="345.35" y2="683" stroke="#f7b0d0" stroke-width="0.9"/>
<rect x="335.5" y="683.5" width="13.1" height="13.7" fill="#ef62a2"/>
<line x1="342.05" y1="702.8" x2="342.05" y2="706.3" stroke="#777" stroke-width="0.8"/>
<rect x="334.25" y="711.7" width="13.4" height="11.8" fill="#17b8be" stroke="#3e6d70" stroke-width="0.6" rx="0.4"/>
<rect x="334.25" y="735.4" width="13.4" height="11.8" fill="#fff" stroke="#9d9d9d" stroke-width="0.8" rx="0.4"/>
<rect x="334.25" y="761.6" width="13.4" height="11.8" fill="#17b8be" stroke="#3e6d70" stroke-width="0.6" rx="0.4"/>
<text x="0" y="0" font-size="8.7" text-anchor="end" fill="#444" transform="translate(343.95 780.8) rotate(-45)">Transcription</text>
<line x1="46.5" y1="684.4" x2="356" y2="684.4" stroke="#4a4a4a" stroke-width="0.9" stroke-dasharray="2.5 2.76"/>
<text x="46.9" y="721.3" font-size="8.9" text-anchor="end" fill="#444" textLength="39.4" lengthAdjust="spacingAndGlyphs">rs1421085</text>
<text x="46.9" y="745" font-size="8.9" text-anchor="end" fill="#444" textLength="43.1" lengthAdjust="spacingAndGlyphs">rs11642015</text>
<text x="46.9" y="771.2" font-size="8.9" text-anchor="end" fill="#444" textLength="47.6" lengthAdjust="spacingAndGlyphs">rs76488452</text>
<text x="366.8" y="571.8" font-size="13" text-anchor="start" fill="#111" font-weight="bold">e</text>
<line x1="405.4" y1="568" x2="405.4" y2="702.4" stroke="#8a8a8a" stroke-width="0.9"/>
<line x1="405.4" y1="702.4" x2="685" y2="702.4" stroke="#bdbdbd" stroke-width="1.2"/>
<line x1="401.6" y1="696.2" x2="405.4" y2="696.2" stroke="#666" stroke-width="0.8"/>
<text x="398.8" y="698.9" font-size="7.6" text-anchor="end" fill="#444">0</text>
<line x1="401.6" y1="665.96" x2="405.4" y2="665.96" stroke="#666" stroke-width="0.8"/>
<text x="398.8" y="668.66" font-size="7.6" text-anchor="end" fill="#444">2</text>
<line x1="401.6" y1="635.72" x2="405.4" y2="635.72" stroke="#666" stroke-width="0.8"/>
<text x="398.8" y="638.42" font-size="7.6" text-anchor="end" fill="#444">4</text>
<line x1="401.6" y1="605.48" x2="405.4" y2="605.48" stroke="#666" stroke-width="0.8"/>
<text x="398.8" y="608.18" font-size="7.6" text-anchor="end" fill="#444">6</text>
<line x1="401.6" y1="575.24" x2="405.4" y2="575.24" stroke="#666" stroke-width="0.8"/>
<text x="398.8" y="577.94" font-size="7.6" text-anchor="end" fill="#444">8</text>
<text x="0" y="0" font-size="9" text-anchor="middle" fill="#3a3a3a" transform="translate(388.5 636) rotate(-90)">Per-SNP heritability enrichment</text>
<line x1="426.3" y1="581.3" x2="426.3" y2="586.7" stroke="#f6aaa6" stroke-width="0.9"/>
<line x1="421.4" y1="581.3" x2="431.2" y2="581.3" stroke="#f6aaa6" stroke-width="0.9"/>
<rect x="417.9" y="586.7" width="16.8" height="109.5" fill="#f07571"/>
<line x1="426.3" y1="702.4" x2="426.3" y2="705.6" stroke="#777" stroke-width="0.8"/>
<rect x="417.3" y="710.5" width="16.8" height="15.5" fill="#17b8be" stroke="#3e6d70" stroke-width="0.6" rx="0.4"/>
<text x="0" y="0" font-size="8.9" text-anchor="end" fill="#444" transform="translate(429.5 735.2) rotate(-45)">Conserved_Primate</text>
<line x1="460.36" y1="587.1" x2="460.36" y2="592.2" stroke="#e0c27f" stroke-width="0.9"/>
<line x1="455.46" y1="587.1" x2="465.26" y2="587.1" stroke="#e0c27f" stroke-width="0.9"/>
<rect x="451.96" y="592.2" width="16.8" height="104" fill="#c8922c"/>
<line x1="460.36" y1="702.4" x2="460.36" y2="705.6" stroke="#777" stroke-width="0.8"/>
<rect x="451.36" y="710.5" width="16.8" height="15.5" fill="#17b8be" stroke="#3e6d70" stroke-width="0.6" rx="0.4"/>
<text x="0" y="0" font-size="8.9" text-anchor="end" fill="#444" transform="translate(463.56 735.2) rotate(-45)">Conserved_Mammal</text>
<line x1="494.42" y1="573.6" x2="494.42" y2="593" stroke="#b5d294" stroke-width="0.9"/>
<line x1="489.52" y1="573.6" x2="499.32" y2="573.6" stroke="#b5d294" stroke-width="0.9"/>
<rect x="486.02" y="593" width="16.8" height="103.2" fill="#79ad40"/>
<line x1="494.42" y1="702.4" x2="494.42" y2="705.6" stroke="#777" stroke-width="0.8"/>
<rect x="485.42" y="710.5" width="16.8" height="15.5" fill="#17b8be" stroke="#3e6d70" stroke-width="0.6" rx="0.4"/>
<text x="0" y="0" font-size="8.9" text-anchor="end" fill="#444" transform="translate(497.62 735.2) rotate(-45)">non_synonymous</text>
<line x1="528.48" y1="608.4" x2="528.48" y2="612.6" stroke="#8fd8ae" stroke-width="0.9"/>
<line x1="523.58" y1="608.4" x2="533.38" y2="608.4" stroke="#8fd8ae" stroke-width="0.9"/>
<rect x="520.08" y="612.6" width="16.8" height="83.6" fill="#27b360"/>
<line x1="528.48" y1="702.4" x2="528.48" y2="705.6" stroke="#777" stroke-width="0.8"/>
<rect x="519.48" y="710.5" width="16.8" height="15.5" fill="#17b8be" stroke="#3e6d70" stroke-width="0.6" rx="0.4"/>
<text x="0" y="0" font-size="8.9" text-anchor="end" fill="#444" transform="translate(531.68 735.2) rotate(-45)">Conserved_Vertebrate</text>
<line x1="562.54" y1="615.6" x2="562.54" y2="622.7" stroke="#8cdbe0" stroke-width="0.9"/>
<line x1="557.64" y1="615.6" x2="567.44" y2="615.6" stroke="#8cdbe0" stroke-width="0.9"/>
<rect x="554.14" y="622.7" width="16.8" height="73.5" fill="#15b8c2"/>
<line x1="562.54" y1="702.4" x2="562.54" y2="705.6" stroke="#777" stroke-width="0.8"/>
<rect x="553.54" y="710.5" width="16.8" height="15.5" fill="#17b8be" stroke="#3e6d70" stroke-width="0.6" rx="0.4"/>
<text x="0" y="0" font-size="8.9" text-anchor="end" fill="#444" transform="translate(565.74 735.2) rotate(-45)">Coding</text>
<line x1="596.6" y1="675.4" x2="596.6" y2="676" stroke="#a4cdeb" stroke-width="0.9"/>
<line x1="591.7" y1="675.4" x2="601.5" y2="675.4" stroke="#a4cdeb" stroke-width="0.9"/>
<rect x="588.2" y="676" width="16.8" height="20.2" fill="#4a9ed8"/>
<line x1="596.6" y1="702.4" x2="596.6" y2="705.6" stroke="#777" stroke-width="0.8"/>
<rect x="587.6" y="710.5" width="16.8" height="15.5" fill="#fff" stroke="#9d9d9d" stroke-width="0.8" rx="0.4"/>
<text x="0" y="0" font-size="8.9" text-anchor="end" fill="#444" transform="translate(599.8 735.2) rotate(-45)">H3K4me1</text>
<line x1="630.66" y1="676.4" x2="630.66" y2="676.9" stroke="#cdb9e0" stroke-width="0.9"/>
<line x1="625.76" y1="676.4" x2="635.56" y2="676.4" stroke="#cdb9e0" stroke-width="0.9"/>
<rect x="622.26" y="676.9" width="16.8" height="19.3" fill="#a07dc0"/>
<line x1="630.66" y1="702.4" x2="630.66" y2="705.6" stroke="#777" stroke-width="0.8"/>
<rect x="621.66" y="710.5" width="16.8" height="15.5" fill="#17b8be" stroke="#3e6d70" stroke-width="0.6" rx="0.4"/>
<text x="0" y="0" font-size="8.9" text-anchor="end" fill="#444" transform="translate(633.86 735.2) rotate(-45)">H3K27ac</text>
<line x1="664.72" y1="678.5" x2="664.72" y2="679" stroke="#efb3d3" stroke-width="0.9"/>
<line x1="659.82" y1="678.5" x2="669.62" y2="678.5" stroke="#efb3d3" stroke-width="0.9"/>
<rect x="656.32" y="679" width="16.8" height="17.2" fill="#e067a7"/>
<line x1="664.72" y1="702.4" x2="664.72" y2="705.6" stroke="#777" stroke-width="0.8"/>
<rect x="655.72" y="710.5" width="16.8" height="15.5" fill="#17b8be" stroke="#3e6d70" stroke-width="0.6" rx="0.4"/>
<text x="0" y="0" font-size="8.9" text-anchor="end" fill="#444" transform="translate(667.92 735.2) rotate(-45)">Transcription</text>
<line x1="405.4" y1="681.5" x2="685" y2="681.5" stroke="#4a4a4a" stroke-width="0.9" stroke-dasharray="2.5 2.76"/>
<text x="413.3" y="723" font-size="8.7" text-anchor="end" fill="#444" textLength="43.9" lengthAdjust="spacingAndGlyphs">rs11692435</text>
</svg>
</body></html>
